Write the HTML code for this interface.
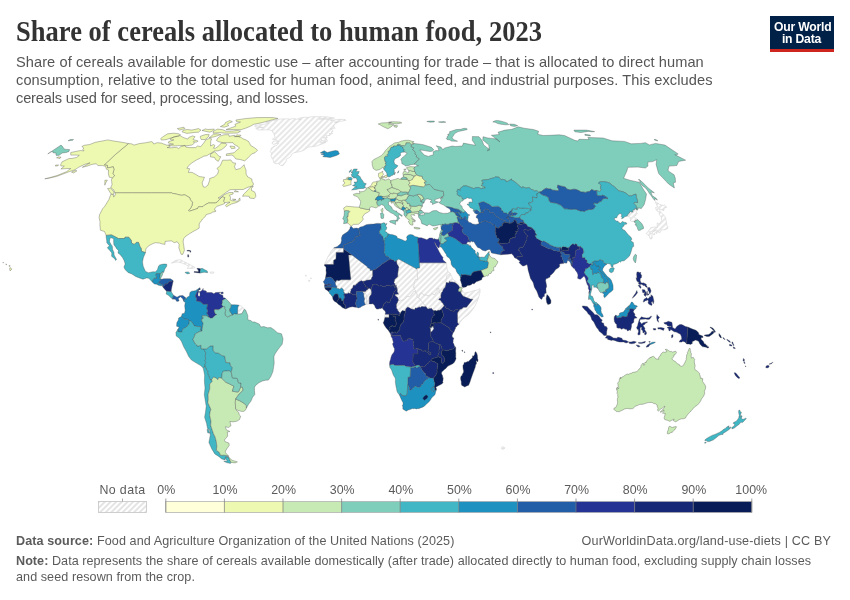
<!DOCTYPE html>
<html lang="en">
<head>
<meta charset="utf-8">
<title>Share of cereals allocated to human food, 2023</title>
<style>
html,body{margin:0;padding:0;background:#fff;}
body{width:850px;height:600px;position:relative;overflow:hidden;font-family:"Liberation Sans",sans-serif;}
.t{position:absolute;white-space:nowrap;}
#title{left:16px;top:14.6px;transform:scaleY(1.09);transform-origin:0 0;font-family:"Liberation Serif",serif;font-weight:bold;font-size:26.5px;line-height:30px;color:#333;letter-spacing:0px;}
.sub{left:16px;font-size:14.6px;line-height:18px;color:#555;}
.foot{font-size:12.6px;line-height:16px;color:#5b5b5b;}
.foot b{font-weight:bold;}
.leg{font-size:12.6px;line-height:14px;color:#5b5b5b;}
#logo{position:absolute;left:769.5px;top:16px;width:64px;height:36px;background:#002147;border-bottom:0;}
#logo .bar{position:absolute;left:0;bottom:0;width:64px;height:3px;background:#ce261e;}
#logo .l{position:absolute;left:0;width:64px;text-align:center;color:#fff;font-weight:bold;font-size:12.2px;line-height:12px;letter-spacing:-0.22px;}
svg{position:absolute;left:0;top:0;}
</style>
</head>
<body>
<div id="title" class="t" style="letter-spacing:0.031px;">Share of cereals allocated to human food, 2023</div>
<div id="s1" class="t sub" style="letter-spacing:0.074px;top:53px">Share of cereals available for domestic use – after accounting for trade – that is allocated to direct human</div>
<div id="s2" class="t sub" style="letter-spacing:0.083px;top:71px">consumption, relative to the total used for human food, animal feed, and industrial purposes. This excludes</div>
<div id="s3" class="t sub" style="letter-spacing:-0.166px;top:89px">cereals used for seed, processing, and losses.</div>
<div id="logo"><div class="l" style="top:4.5px;left:1.2px"><span id="lg1">Our World</span></div><div class="l" style="top:16.5px"><span id="lg2">in Data</span></div><div class="bar"></div></div>
<svg width="850" height="600" viewBox="0 0 850 600">
<defs><pattern id="h" width="4" height="4" patternUnits="userSpaceOnUse" patternTransform="rotate(45)"><rect width="4" height="4" fill="#fff"/><line x1="1" y1="0" x2="1" y2="4" stroke="#e2e2e2" stroke-width="1.6"/></pattern></defs>
<g stroke-linejoin="round">
<g stroke="#d4d4d4" stroke-width="0.6" fill="url(#h)">
<path d="M171.4,263.1L176.1,260.2L180.7,259.7L183.8,261.5L188.1,263.6L191.9,265.7L195.1,267.5L193.2,268.3L187.1,268.4L188.9,266.5L185.7,264.6L181.4,262.8L178.1,262L174.7,262.3Z"><title>Cuba</title></path>
<path d="M210.5,271.9L214.1,272.2L213.5,273.2L210.4,273.2Z"><title>Puerto Rico</title></path>
<path d="M238.8,305.1L241.3,306.1L244,308.7L244,309.8L241.8,313.7L237.4,314.2L237.7,309.8L237.8,307.2Z"><title>French Guiana</title></path>
<path d="M333.7,248L343.7,248L343.7,249L343.6,252.4L336.2,252.4L336,259L333.7,260.2L333.6,264.5L324.7,264.5L324.5,265.9L324.6,264.1L327,258.9L327.5,257.6L329.8,253.7L330.8,251.6Z"><title>Western Sahara</title></path>
<path d="M335.2,282.1L336,281.6L336.8,280L338.7,280.7L341.2,279.8L350.4,279.8L350.9,277.9L350.5,277.6L349.5,266.3L348.5,255L352,255L359.5,260.7L367.1,266.4L367.7,267.7L369.1,268.4L370.1,268.8L370.2,270.5L372.7,270.2L372.7,276.2L371.5,278L371.3,279.6L369.3,280L366.2,280.2L365.3,281.1L363.8,281.2L362.4,281.3L361.8,280.7L360.6,281.1L358.4,282.2L358,283L356.2,284.2L355.9,284.9L355,285.4L353.8,285.1L353.2,285.7L352.9,287.5L351,289.6L351.1,290.5L350.5,291.6L350.6,293.1L349.7,293.5L348.8,292.8L347.3,293.7L345.5,293.7L344.6,293.6L344,292L343.2,292L343.8,290.5L342.6,288.7L341.6,288L339.7,289.3L338.1,288.4L337.1,288.7L336.7,287.7L336.8,286.9L336.6,285.9L335.7,285.2L335.3,283.7Z"><title>Mali</title></path>
<path d="M365.4,304.7L364.9,303.8L364.3,302.2L364.1,300.9L364.6,298.5L364.1,297.6L363.8,295.5L363.8,293.6L362.9,292.3L363,291.4L365.1,291.5L364.8,292.9L365.5,293.6L366.3,294.6L366.4,295.9L366.8,296.4L366.7,302.4L367.3,304.2Z"><title>Togo</title></path>
<path d="M367.3,304.2L366.7,302.4L366.8,296.4L366.4,295.9L366.3,294.6L365.5,293.6L364.8,292.9L365.1,291.5L365.8,291.2L366.3,290.1L367.4,289.8L367.9,289L368.7,288.3L369.5,288.3L371.3,289.8L371.2,290.6L371.7,292.2L371.3,293.2L371.5,294L370.4,295.6L369.7,296.4L369.2,298L369.3,299.7L369.2,303.9Z"><title>Benin</title></path>
<path d="M446.2,262.8L447,265.4L446.6,265.8L447,268.5L448,271.6L448.9,272.3L450.2,273.2L449.2,274.7L447.5,275.2L446.8,275.9L446.7,277.7L445.9,281.5L446.2,282.6L445.9,284.8L445.1,287.4L443.7,288.7L442.8,290.7L442.6,291.7L441.6,292.5L440.9,295.4L440.6,295.5L440.6,294.2L440.3,293.2L439.1,292.2L438.8,290.4L439,288.4L438,288.2L437.8,288.8L436.4,289L437,289.7L437.3,291.3L436,292.7L434.9,294.6L433.8,294.9L431.8,293.4L431,293.9L430.7,294.7L429.6,295.2L429.5,295.7L427.2,295.7L426.9,295.2L425.2,295L424.4,295.5L423.8,295.3L422.6,293.7L422.1,293L420.5,293.4L419.9,294.6L419.3,296.9L418.6,297.4L417.9,297.7L417.7,297.6L416.9,296.8L416.7,296L417.1,294.9L417,293.9L415.7,292.3L415.4,291.1L415.4,290.5L414.6,289.7L414.5,288.2L414,287.2L413.2,287.4L413.4,286.4L414,285.3L413.7,284.2L414.4,283.4L413.9,282.8L414.5,281.2L415.5,279.3L417.5,279.5L417,269.1L417,268L419.6,268L419.4,262.8Z"><title>Sudan</title></path>
<path d="M440.9,295.4L440.6,295.5L440.6,294.2L440.3,293.2L439.1,292.2L438.8,290.4L439,288.4L438,288.2L437.8,288.8L436.4,289L437,289.7L437.3,291.3L436,292.7L434.9,294.6L433.8,294.9L431.8,293.4L431,293.9L430.7,294.7L429.6,295.2L429.5,295.7L427.2,295.7L426.9,295.2L425.2,295L424.4,295.5L423.8,295.3L422.6,293.7L422.1,293L420.5,293.4L419.9,294.6L419.3,296.9L418.6,297.4L417.9,297.7L419.4,298.7L420.7,299.8L420.7,300.6L422.3,302L423.3,303.1L423.9,304.7L425.6,305.7L426,306.6L427.4,308.7L428.5,309L429.1,308.6L430.1,308.7L431.4,308.2L432,309.3L434,311L435,310.3L436.4,310.9L438.3,310.3L439.9,310.3L441.3,309.1L442.7,307.5L444.2,305.8L442.8,303L441.8,302.4L441.3,301.3L440.1,300.1L438.7,299.9L439.5,298.4L440.7,298.3L441,297.6Z"><title>South Sudan</title></path>
<path d="M396.2,286.6L396.4,285.4L394.9,285.4L394.9,283.7L393.9,282.7L394.8,279.3L397.7,276.8L397.8,273.4L398.5,268.1L399,267L398,266.1L398,265.3L397.1,264.6L396.4,260.6L398.7,259.1L407.8,264.1L417,269.1L417.5,279.5L415.5,279.3L414.5,281.2L413.9,282.8L414.4,283.4L413.7,284.2L414,285.3L413.4,286.4L413.2,287.4L414,287.2L414.5,288.2L414.6,289.7L415.4,290.5L415.4,291.1L414,291.6L412.8,292.6L411.2,295.5L409.1,296.7L406.8,296.5L406.2,296.8L406.4,297.7L405.2,298.6L404.3,299.6L401.4,300.6L400.8,300L400.4,300L400,300.6L398.1,300.8L398.5,300.1L397.7,298.3L397.4,297.2L396.4,296.8L395,295.3L395.5,294.1L396.6,294.3L397.2,294.1L398.5,294.2L397.2,291.8L397.3,290L397.1,288.3Z"><title>Chad</title></path>
<path d="M398.1,300.8L400,300.6L400.4,300L400.8,300L401.4,300.6L404.3,299.6L405.2,298.6L406.4,297.7L406.2,296.8L406.8,296.5L409.1,296.7L411.2,295.5L412.8,292.6L414,291.6L415.4,291.1L415.7,292.3L417,293.9L417.1,294.9L416.7,296L416.9,296.8L417.7,297.6L417.9,297.7L419.4,298.7L420.7,299.8L420.7,300.6L422.3,302L423.3,303.1L423.9,304.7L425.6,305.7L426,306.6L425.2,306.8L423.8,306.8L422,306.5L421.2,306.7L420.8,307.3L420.1,307.4L419.2,306.9L416.6,308.2L415.6,307.9L415.3,308.1L414.6,309.7L412.9,309.2L411.2,308.9L409.7,308L407.8,307.1L406.6,307.9L405.7,309.2L405.5,311.1L404,310.9L402.4,310.5L401.1,311.9L399.9,314.3L399.7,313.5L399.5,312.3L398.5,311.5L397.6,310.2L397.4,309.2L396.3,307.9L396.5,307.1L396.3,306L396.4,303.9L397,303.5Z"><title>Central African Republic</title></path>
<path d="M385.2,314.3L389,314.3L389,317.4L385.7,317.4L384.9,317.6L384.5,317.2Z"><title>Equatorial Guinea</title></path>
<path d="M430.5,331.9L430.4,328.8L429.8,327.6L431.3,327.8L432,326.3L433.2,326.5L433.3,327.5L433.8,328.1L433.8,329L433.3,329.5L432.4,330.9L431.5,331.8Z"><title>Burundi</title></path>
<path d="M446.2,282.6L445.9,281.5L446.7,277.7L446.8,275.9L447.5,275.2L449.2,274.7L450.2,273.2L451.7,276.3L452.5,278.7L453.8,279.9L457,282.4L458.4,283.9L459.7,285.4L460.4,286.3L461.6,287.1L460.9,287.7L459.9,287.5L459.1,286.6L458.1,285.1L457.1,284.3L456.4,283.4L454.4,282.3L452.8,282.3L452.2,281.7L450.9,282.3L449.5,281.2L448.9,283.1Z"><title>Eritrea</title></path>
<path d="M461.1,291.7L461.9,290.3L462.6,290.8L463.1,291.9L464.2,292.9L465.3,293L467.5,292.3L469.9,292L471.9,291.2L473.1,291L473.9,290.5L475.2,290.4L475.9,290.4L476.9,290L478.1,289.7L479.2,288.8L480,288.8L480.1,289.5L480,291.1L480.1,292.4L479.6,293.4L479,296.2L478,299.1L476.7,302.5L474.8,306.3L472.9,309.2L470.2,312.7L468,314.9L464.6,317.5L462.4,319.4L459.9,322.6L459.3,324L458.8,324.6L457.5,322.4L457.4,312.9L459.4,310L460,309.2L461.5,309.1L463.5,307.3L466.5,307.2L472.8,299.3L470.9,299.3L463.3,296.2L462.4,295.3L461.5,294.1L460.6,292.6Z"><title>Somalia</title></path>
<path d="M308.7,280.3L309.6,280.3L309.6,281.3L308.7,281.3ZM305.5,275.3L306.4,275.3L306.3,276.1L305.4,276.1ZM310.6,277.9L311.3,277.9L311.3,278.6L310.6,278.6Z"><title>Cape Verde</title></path>
<path d="M501.9,446.9L503.5,446.9L504.9,447.9L504,449.1L501.8,449.1L501.4,448.1Z"><title>Kerguelen</title></path>
<path d="M469.1,242L469.8,243.2L469.6,243.7L470.6,245.7L469,245.8L468.3,244.5L466.3,244.3L467.6,241.8Z"><title>Kuwait</title></path>
<path d="M637,209.7L637.5,210.1L636.6,210L636.2,210.9L636.1,211.7L637.3,213.6L636.5,214.2L636.3,214.6L636,215.4L634.8,215.8L634.2,216.5L634.7,217.6L634.7,217.9L635.7,218.3L637.5,219.5L636.7,220.3L635.2,220.4L635,221.6L634,221.5L633.9,221.7L632.7,221.2L632.6,221.7L632.1,221.9L631.8,221.4L631.1,221.2L630.3,220.8L630.4,219.6L630.7,219.3L630.3,218.9L630.2,217.5L629.8,217L628.4,216.8L627.1,216.1L627.9,214.4L629.5,213L629.9,211.2L631.4,212L633.2,212.1L632.1,210.7L634.7,209.6L634.7,208.1Z"><title>North Korea</title></path>
<path d="M666.6,223.3L666.8,225.4L667.8,226.7L667.6,228.5L665.4,229.7L661.6,229.9L659.8,232.9L657.9,231.9L657,229.9L653.4,230.5L651.4,231.7L648.9,231.8L651.9,233.7L652.2,238.1L651.2,239.2L649.7,238.2L649.4,235.9L647.7,235.1L646.1,233.3L647.8,232.5L648.2,230.9L649.8,229.5L650.6,227.8L654.6,227L657.2,227.5L657.2,222.9L659.2,224.1L661.1,221.5L661.7,220.5L661.3,217.3L659.3,214.4L659.2,212.8L661.1,212.3L664.5,215.9L665.6,218ZM661.7,205.1L663.6,205.6L664.3,204.6L666.7,207.4L664.1,208.1L663.9,210.7L659.5,208.9L660.2,211.8L657.8,211.8L655.9,209.3L655.7,207.3L657.8,207.1L656,203.6L655.3,201.6L659.5,204.2ZM656.5,231.1L657.2,232L656.6,233.6L655.4,232.7L654.5,233.3L654.6,234.9L652.9,234.1L652.4,232.9L652.9,231.3L654.3,231.6L654.7,230.5Z"><title>Japan</title></path>
<path d="M298.9,118.2L304.1,117.3L308.8,117.3L310.9,116.8L315.7,116.7L326.4,116.8L334.5,118L331.8,118.6L326.5,118.7L319,118.8L319.5,119.1L324.5,119L328.5,119.5L331.3,119L332.3,119.6L330.5,120.6L334.2,119.9L341.1,119.3L345.2,119.6L345.9,120.3L339.9,121.5L339,121.9L334.4,122.2L337.7,122.3L335.7,123.6L334.2,124.8L333.7,126.9L335.2,128.2L332.8,128.3L330.2,128.9L332.7,129.9L332.7,131.7L331,131.8L332.6,133.6L329.1,133.8L330.8,134.6L330.1,135.3L327.8,135.7L325.6,135.7L327.2,137.1L327,138L324.1,137.1L323.1,137.7L325.2,138.2L327,139.5L327.3,141.3L324.2,141.7L323.1,140.9L321.4,139.6L321.6,141.1L319.5,142.2L323.8,142.3L326,142.4L321.2,144.3L316.2,146.1L311.1,146.8L309.2,146.9L307.2,147.7L304.2,150.1L300,151.7L298.8,151.8L296.3,152.3L293.6,152.9L291.7,154.3L291.1,155.9L289.7,157.4L286.2,159.3L286.3,161.1L284.9,163.1L283.2,165.4L280.6,165.5L278.5,163.6L274.9,163.6L273.6,162.3L273.3,160L271.3,157.1L271,155.6L271.6,153.5L270.1,151.4L271.5,149.7L270.7,148.9L273.6,146.3L276.5,145.5L277.6,144.6L278.7,142.9L276.4,143.7L275.4,144L273.7,144.3L272,143.6L272.6,142.1L273.8,140.9L275.4,140.9L278.5,141.5L276.3,140.1L275.2,139.4L273.4,139.7L272.4,139.2L275.2,137.2L274.7,136.4L274.2,134.9L273.7,132.8L272.2,132L272.8,131.1L269.5,129.9L266.4,129.8L262.2,129.9L258.4,130L257.2,129.4L255.6,128.1L260,127.5L263.2,127.4L257.2,126.9L254.6,126.1L255.5,125.4L261.8,124.5L267.9,123.6L269.1,123L265.8,122.3L267.7,121.6L273.6,120.5L275.8,120.3L275.9,119.5L279.6,119.1L284,118.9L288.3,118.8L289.4,119.3L293.7,118.5L296.6,119.1L298.5,119.2L301,119.7L298.3,118.8Z"><title>Greenland</title></path>
</g>
<g stroke="#444" stroke-opacity="0.75" stroke-width="0.45">
<path fill="#edf8b1" d="M128.4,143.6L131.4,143.8L134,145.1L139.2,143.6L146,142.7L151.4,141.6L152.6,142.1L153.7,144L157.1,142.7L161.3,143.1L166.1,144.9L169.6,145.6L170.2,146.7L167.1,147.6L170.8,147.8L176.4,147.3L178.7,148.5L180.9,146.5L185,145.3L185.9,147.1L189.7,147.6L195.7,147.6L197.5,146L200.7,146.7L204,142.7L205.7,139.9L209.5,138.4L211.5,138.8L210.7,141.6L210.7,143.6L210.5,146L213.4,144.5L215,145.6L213.4,148.2L215.6,148.2L219.4,145.3L221.1,143.1L225.9,143.4L226.8,144.9L224.9,147.1L221.3,149.8L217.9,150.9L214.5,150.9L211.1,153.2L206.7,155.7L203.8,156.2L200.8,157.8L196.1,160.2L192,162.8L188.7,165.6L186.9,168.3L189.7,168.7L188.3,172.4L192.1,172.4L195.6,174.3L199.1,176.5L204.5,177.3L202.2,182.7L202.6,184.7L203.5,187L205.3,187.2L207.9,185.2L209.7,180.2L209.6,178.5L214.2,177L217.6,174.1L218.6,170.4L216.9,168.5L220.3,165.6L222.6,160.2L227.1,160.2L230.8,159.9L232.9,162.8L235.7,163.2L234.5,166.8L235.8,169.7L240.1,168.5L244.2,164.7L244.6,166.8L246,170L246.1,174.1L247.8,177L251.9,179L252,181.2L253.6,184L252.4,186L248,187.2L243.2,189.5L236.2,189.5L230.2,189.7L226.2,192.3L220.7,196.3L218,198.1L220.2,197.9L224.4,194.6L229.1,192.5L233.2,192.5L233.1,194L229.2,195.3L230.6,197.1L230.1,199.9L232.5,200.7L235.5,200.9L237.5,201.4L239.8,197.9L240.2,200.4L236.7,202.5L231.5,204L226.5,206.8L225.4,205.5L226.8,204L230,202.2L227.9,202.2L224.7,202.7L223.5,201.2L224.7,197.6L222.2,196.8L219.6,199.4L217,202.2L215.3,203L208.5,203L204.6,205L203,206.6L198.4,206.8L197.8,208.4L194.2,209.7L189.4,211.2L188.4,210.4L190.4,208.6L192,205.5L192.5,202.2L191,200.7L190,199.1L190,197.9L184.8,194.8L181.5,195.3L179.1,194.8L176.1,194L172.2,193.3L171.4,192.8L161.6,192.8L151.5,192.8L141.4,192.8L131.4,192.8L121.3,192.8L115.3,192.8L114.9,192.8L114,190.2L110.8,187.7L112,184.7L111.7,181.5L111.4,179.5L112.4,177.8L114.7,175.6L112.8,173.8L114,169.5L113.3,166.8L107.5,168L107.4,165.4L104.2,164.9L116.1,153.9ZM113.1,194.6L110.7,193.5L107.6,188.5L110.4,188.2L112.6,190.2L114,192.3ZM104.8,185.2L104.8,182.7L104.9,180.2L107.4,180.2L105.8,182.7ZM242.5,196.3L245.2,196.1L249.2,196.3L249.7,198.1L252.7,198.4L254.2,198.6L255.8,196.6L255.5,194L254.5,191.8L251.5,190.5L251.5,188.5L253.3,186.2L250.4,187.2L247.2,190.8L243.8,194ZM234.9,190.5L238.5,191.8L234.4,191.8ZM232.4,199.1L236,199.4L233.7,200.2ZM218.3,161.4L220.8,156.7L218.8,156.2L217.4,154.4L214.7,151.8L210.7,153.9L210.4,156.9L214.5,157.4L215.7,159.7ZM257.5,150.3L255,152.8L251.8,153.9L248.1,157.8L244.7,160.9L242.4,160.2L240.1,159.5L235.8,159L233.8,156.2L231.9,155.1L226.3,155.5L226.4,153.9L234.1,152.8L236.3,150.5L239.4,148.2L238,146.5L234.3,144.5L233,142.7L227.2,142.7L223,142.7L218.1,141.6L216.5,140.5L217.5,138.4L220.6,135.9L223.9,134.8L228.8,134.6L229,136.3L234.6,135.3L234.2,136.7L238.4,136.5L241,137.4L243.1,138.8L246.3,140.1L248.6,141.6L249.8,143.6L250.5,145.3L254.3,147.6L256.7,149.4ZM168.2,142.9L173.5,144.2L168.6,144.9L172.6,146L179.7,145.6L186.2,145.8L191.9,145.1L194.5,143.1L193.4,141.6L196.1,142.3L198.1,141L193,139.5L195,136.7L192.7,135.9L188.8,137.4L187.8,139.1L183.1,137.4L180.3,135.7L174.2,136.7L169.9,139.1L171.4,139.9L173.9,139.9L168.7,141.6ZM160.7,138.6L161.4,140.1L166,139.7L171.4,137.8L178.2,136.1L180.5,134.8L178.6,133.8L173.9,133.2L167.6,133.8L163,136.7ZM201.2,139.5L205.2,139.5L208.6,136.7L209.1,134.6L205.2,134.6L200.3,136.3L200.4,137.8ZM209.2,137.8L214,136.9L221,134.6L217,133.8L213.5,134.2ZM213,133.2L219.8,132.6L224.7,133.2L231.7,133.2L237.4,133L240.6,131.2L237.3,130.5L232.3,131L225.9,131.2L222.8,129.7L217.4,129.1L213.6,131.2ZM182,131.8L186.9,133.4L195.2,132.4L198.5,132.2L201,130.1L198.5,128.6L191.8,130.1L187.3,129.5L183.4,130.1ZM202,130.5L209.4,132.2L212.5,131.2L214.4,129.1L207.8,129.5L205.5,128.9ZM220.4,126.6L224.2,127.2L228.7,125.8L227.5,123.8L232.4,121.7L229.7,120.5L225.5,122.5L224.7,124.3ZM226.1,129.5L233.7,129.5L241.1,129.7L245.6,128.2L250.5,126.2L253.8,124.3L261,122.9L268.7,120.8L277.8,118.4L273.1,117.6L265.1,117.5L256.7,117.6L246.1,118.5L235.9,120L236.6,121.7L240.5,122L234.9,124.3L235.7,126.2L231,127.8ZM179.6,130.1L184.9,128.6L183.9,127.2L177.3,128.6ZM229.9,146L234.6,146.5L235.2,148.2L231.5,148.7ZM236.6,134.8L241,135.3L239.8,136.7L235.2,136.5Z"><title>Canada</title></path>
<path fill="#edf8b1" d="M114.9,192.8L115.3,192.8L121.3,192.8L131.4,192.8L141.4,192.8L151.5,192.8L161.6,192.8L171.4,192.8L172.2,193.3L176.1,194L179.1,194.8L181.5,195.3L184.8,194.8L190,197.9L190,199.1L191,200.7L192.5,202.2L192,205.5L190.4,208.6L188.4,210.4L189.4,211.2L194.2,209.7L197.8,208.4L198.4,206.8L203,206.6L204.6,205L208.5,203L215.3,203L217,202.2L219.6,199.4L222.2,196.8L224.7,197.6L223.5,201.2L224.7,202.7L224.4,203.7L219.6,205.5L216.9,206.3L214.9,208.6L214.6,210.2L215.9,210.7L215.6,211.5L212.9,212L210.9,213.3L206.2,214.6L205.4,216.4L203.1,218.5L202.5,219L201.6,220.5L199.7,222.9L199.2,223.9L199.2,228.1L196.6,229.7L193.1,231.5L189.7,233.6L185.5,236.4L183.6,238.8L183.1,241.9L183.8,245.8L184.4,250.3L182.8,254.4L181.2,254.4L180.1,251.6L178.8,247.7L179.2,244.5L177.2,241.7L174.1,242.7L171.9,240.9L168.5,241.1L165.1,241.4L165,244.5L164.6,244.3L162.3,244L159.2,243L155.3,242.7L153.1,243.5L148.5,245.8L145.8,249L145.5,252.6L141.5,251.3L141.2,248.4L139.9,246.4L138.5,242.4L136.3,242.4L134.2,244.5L131.5,243L131.3,240.4L128.8,237.2L125,237.2L124.6,238.5L118.4,238.5L111.6,234.9L106.1,235.4L104.5,231.5L100.4,230.2L99.9,224.7L100,221.6L99.1,217.7L99.5,214.8L102.7,208.6L104.4,206.8L108.9,199.6L110.8,194.3L113.9,194.8L113.5,197.1L115.4,194.8ZM128.4,143.6L124.5,142.7L119,141.8L113.7,141L107.8,139.9L102.2,141L95.3,142.3L89.7,144.5L84.2,145.3L81.8,146.5L83.8,148L82.8,149.4L84.1,150.9L80.4,150.5L70.7,152.5L70.8,155.1L76.1,155.1L79.3,155.3L76.7,157.4L71.6,158.5L69,158.5L62.1,161.8L60.7,164.4L60.8,165.9L64.3,166.1L60.9,169L64.9,168.7L68,168.5L70.8,168.5L66.4,171.7L57.7,175.3L50.8,177.3L44.8,178.8L48.8,178.3L56.4,176.5L62.8,174.1L69.2,171.7L75,169.7L78.6,167.3L84.5,164.4L90.1,162.8L82.3,167.3L87.3,166.1L91.9,164.4L96.3,163.7L97.9,165.6L102.5,165.6L105.5,166.3L106.4,169.2L108.5,170L108.4,174.1L109.4,177.3L112.4,177.8L114.7,175.6L112.8,173.8L114,169.5L113.3,166.8L107.5,168L107.4,165.4L104.2,164.9L116.1,153.9ZM71.5,172.1L73.6,172.9L76.9,170.9L75.2,170.4ZM56.5,157.8L60,158.5L61,157.1L58.6,156.9ZM55.6,165.1L58.7,164.9L57.7,165.9L55.4,166.1ZM10,267.5L11.9,269.1L10.1,270.9L9.6,269.1ZM5.9,263.8L6.8,264.6L5.9,264.6ZM9.1,265.4L10.3,265.9L9.3,266.5ZM2.8,262.5L3.7,262.5L3.1,263.1Z"><title>USA</title></path>
<path fill="#41b6c4" d="M106.1,235.4L111.6,234.9L118.4,238.5L124.6,238.5L125,237.2L128.8,237.2L131.3,240.4L131.5,243L134.2,244.5L136.3,242.4L138.5,242.4L139.9,246.4L141.2,248.4L141.5,251.3L145.5,252.6L143.4,257.6L142.5,262L143.2,266.2L144.7,269.8L145.6,271.4L148.4,272.7L153.1,271.7L155.3,271.9L157.4,269.8L158.6,265.9L159.7,264.9L163.2,264.1L166.6,264.1L166.8,265.9L164.7,269.3L163.7,272.5L162.6,271.9L160.4,273.7L156.2,273.7L156,275.2L157,278.2L154.1,278.3L152.7,280.5L152.5,282.2L148.8,278.2L146.6,277.9L143,279.2L138.7,277.7L135.6,276.4L131.9,274L128,272.5L125.1,269.6L123.9,267L125.2,264.1L124.2,260.7L122.5,257.6L119.8,254.2L118,253.1L118.4,250.5L116.6,248.7L115.9,247.4L113.9,244.8L113.6,241.4L113.7,238.8L110.6,237.5L109.8,239.3L109.5,241.7L111.1,244.5L112.4,246.4L112.5,249.2L114,252.4L114.1,255L115.2,257.1L116.6,259.4L115.5,260.4L114.9,258.9L111.6,256.3L111.8,252.9L109.6,250.3L107.3,247.7L109.4,245.8L106.8,242.7L106.7,240.6L106.2,237.5Z"><title>Mexico</title></path>
<path fill="#1d91c0" d="M152.5,282.2L152.7,280.5L154.1,278.3L157,278.2L156,275.2L156.2,273.7L160.4,273.7L159.7,278.7L160.4,278.7L161.9,279.2L159.5,281.1L159,282.6L157.1,284.3L154.4,283.9Z"><title>Guatemala</title></path>
<path fill="#7fcdbb" d="M160.4,273.7L162.6,271.9L162.9,273L162.1,275.8L160.4,278.7L159.7,278.7Z"><title>Belize</title></path>
<path fill="#1d91c0" d="M157.1,284.3L159,282.6L160.8,283.9L162.5,284.2L162.2,285.5L160.6,285.8L157.7,285Z"><title>El Salvador</title></path>
<path fill="#225ea8" d="M161.9,279.2L159.5,281.1L159,282.6L160.8,283.9L162.5,284.2L162.2,285.5L163.1,286.3L164,286.3L164.9,284.2L167.2,283.9L169.2,281.6L173.2,281.1L172.8,280.3L170.4,278.8L167,278.7L163.6,278.8Z"><title>Honduras</title></path>
<path fill="#172976" d="M163.1,286.3L164,286.3L164.9,284.2L167.2,283.9L169.2,281.6L173.2,281.1L172,286.3L171.3,289.7L171.2,291.7L168.9,291.4L166.6,291.2L164.9,289.4L162.4,286.5Z"><title>Nicaragua</title></path>
<path fill="#41b6c4" d="M166.6,291.2L168.9,291.4L171.2,291.7L173.5,295.3L172.5,299.1L171.2,298L168.4,295.2L166.2,294.1Z"><title>Costa Rica</title></path>
<path fill="#225ea8" d="M173.5,295.3L177,297.2L179.6,295.8L182.8,295.5L185.4,297.6L183.9,301.4L182.7,298.8L180.5,296.7L178.3,298.5L179.1,300.9L176.8,301.4L175.3,299.3L172.5,299.1Z"><title>Panama</title></path>
<path fill="#41b6c4" d="M185.3,272.2L188.2,271.9L189.9,273.2L187.6,273.9L185.2,272.7Z"><title>Jamaica</title></path>
<path fill="#081d58" d="M194,272.3L197.2,272.7L200,273.1L200.6,268.8L197.7,268.3L196.8,268.8L198.2,269.8L198.5,271.7L194.2,271.5Z"><title>Haiti</title></path>
<path fill="#41b6c4" d="M200,273.1L201.8,272.7L204.1,272.2L207.7,272.7L207.2,270.9L204.8,269.8L202.2,268.3L200.6,268.8Z"><title>Dominican Republic</title></path>
<path fill="#081d58" d="M187.7,254.7L188.6,254.7L188.7,257.1L187.8,257.1ZM187,250.5L189,250.3L190.7,250.8L190.8,251.8L190,252.4L189.8,251.1L186.9,251.1Z"><title>Bahamas</title></path>
<path fill="#253494" d="M221.1,292.3L223.1,292L223.1,293.8L221,293.8Z"><title>Trinidad and Tobago</title></path>
<path fill="#1d91c0" d="M185.4,297.6L186.5,299.3L186.6,297.8L189.5,295.7L189.9,292.5L191.6,291.2L195.3,290.7L197.6,289.2L199.8,287.8L200.2,289.4L198.1,289.9L196.7,292.8L195.4,296.2L196.7,298.5L196.6,300.9L200.5,301.8L203.4,304.3L207.7,304L206.9,308.5L208,311.3L206.8,312.9L208.6,315.8L208.8,317.1L208.4,317.1L206.3,315.8L202.2,315.8L202.1,317.3L203.5,317.6L203.1,318.6L201.7,318.9L201.7,320.7L203.1,323.1L201.9,331.2L200.2,330.1L201,326.7L197.1,326.5L194.4,325.9L191.5,321.5L189.4,320.5L187.1,319.2L184.6,319.2L181.4,316.5L182.2,313.7L184.5,313.2L185.2,310.3L184.7,305.8L185.3,302.5L183.9,301.4Z"><title>Colombia</title></path>
<path fill="#253494" d="M199.8,287.8L200.2,289.4L198.1,289.9L196.7,292.8L195.4,296.2L196.7,298.5L196.6,300.9L200.5,301.8L203.4,304.3L207.7,304L206.9,308.5L208,311.3L206.8,312.9L208.6,315.8L208.8,317.1L210.2,318.2L212.5,317.9L215.5,315.2L216.9,314.5L215.1,313.7L214.2,310L215.2,309.5L218.4,309.8L220.7,308.5L223.3,306.6L221.7,304.7L222.5,302.7L222.3,300.6L225.6,298.5L225.2,298L223.1,297.8L223,295.4L219.6,294.1L219,293.1L220.8,292.3L215.6,292.5L213.9,293.8L211.7,292.5L206.6,292.5L206.2,291L203.1,290.2L203.2,288.4L202.2,290.2L200.3,291.5L198.9,291.8L198.3,290.2Z"><title>Venezuela</title></path>
<path fill="#7fcdbb" d="M225.6,298.5L228.5,301.2L231.4,304.8L231.1,307.2L229.7,309.2L230.1,311.6L232.8,315.2L231.7,315.2L227.5,317.1L225.4,315.5L224.8,313.2L225.8,310L224.6,308.5L224.9,306.9L223.3,306.6L221.7,304.7L222.5,302.7L222.3,300.6Z"><title>Guyana</title></path>
<path fill="#1d91c0" d="M231.4,304.8L234.4,304.8L238.8,305.1L237.8,307.2L237.7,309.8L237.4,314.2L234.2,313.7L232.8,315.2L230.1,311.6L229.7,309.2L231.1,307.2Z"><title>Suriname</title></path>
<path fill="#1d91c0" d="M181.4,316.5L184.6,319.2L187.1,319.2L189.4,320.5L189,324.1L186.5,327L182.7,329.1L181.8,332.2L179.8,331.9L177.9,331.7L178.1,329.1L179.2,327L176.6,326.2L176.8,322.8L178.4,319.9L178.6,318.1Z"><title>Ecuador</title></path>
<path fill="#41b6c4" d="M178.1,329.1L177.9,331.7L179.8,331.9L181.8,332.2L182.7,329.1L186.5,327L189,324.1L189.4,320.5L191.5,321.5L194.4,325.9L197.1,326.5L201,326.7L200.2,330.1L201.9,331.2L200,331.4L195.2,333.8L194.6,336.1L192.9,339.5L195.4,343.9L197.1,345.2L197.4,346.3L201,345.2L201.2,348.9L203.5,348.8L205.8,352.8L205.3,355.9L205.6,359.3L205,360.4L205.8,362.5L204.7,365.3L205,365.9L203.2,368.1L200.7,365.6L196.8,363.3L191.5,360.1L188.7,356.5L186.5,351.8L183.6,346.6L181.5,341.6L179.3,338.2L176.2,335.9L175.9,332.5Z"><title>Peru</title></path>
<path fill="#41b6c4" d="M203.5,348.8L206.4,348.9L210.2,346L213.2,345.8L213.2,350.7L215.6,352.8L218.8,353.2L221.7,355.4L224.7,356.2L225.9,362.5L230,362.7L230.4,365.3L232.4,367.7L231.9,369.8L231.2,371.9L231.4,372.8L229.1,370.7L223.2,371.3L222.1,373.7L221.7,378.3L218.8,377.6L217.9,379.7L215.9,377.9L213.6,377.1L211.6,379.7L210,379.7L209,376.3L207.6,373.4L207.8,370.8L206.5,369.8L205,365.9L204.7,365.3L205.8,362.5L205,360.4L205.6,359.3L205.3,355.9L205.8,352.8Z"><title>Bolivia</title></path>
<path fill="#41b6c4" d="M203.2,368.1L205,365.9L206.5,369.8L207.8,370.8L207.6,373.4L209,376.3L210,379.7L211.6,379.7L212.3,381.5L209.7,384.1L209.8,388.8L208.1,394.6L208.3,399.5L207.8,402.4L209.9,407.1L210.9,409.4L210,412.3L209.7,415.4L211,421.2L210.7,425.3L212.3,430.2L213.4,433.6L215.1,436.9L216.3,441.5L216.9,446.4L216.4,450.2L219.2,452.2L220.5,455.2L225,455.2L228.5,456.1L226.5,456.4L224.9,458.9L225.1,459.9L221.7,458.9L218.7,456.4L214.8,453.9L211.8,448.9L208.9,442.5L209.6,438.7L210.3,434.9L209.6,429.7L207.5,428.4L206.5,423.2L204.6,417.3L205.4,412.8L206.2,406.3L205.1,399.8L204.3,394.6L205,388L204.4,381.5L204.6,375ZM228.4,456.8L225.3,457.2L225.8,459.2L227.5,460.9L223.7,461.2L226.4,462.6L230.5,463.4L230.9,462.4ZM207,429.4L208.4,429.4L209.7,433.3L207.7,432.8Z"><title>Chile</title></path>
<path fill="#c7e9b4" d="M211.6,379.7L213.6,377.1L215.9,377.9L217.9,379.7L218.8,377.6L221.7,378.3L225.9,382.3L229.4,383.9L233.9,386.2L232.3,391.2L237.1,392L238.6,391.7L240.7,387L242.5,387.3L243.1,390.4L239.1,394L235.6,399L235.3,402.4L235.5,406L235.6,408.7L235.8,409.7L238.9,412.6L239.2,414.9L240.7,416.2L239.5,419.6L236.9,421.2L232.8,421.9L229.9,421.4L231,425.8L228.3,427.6L225.5,426.6L226.2,429.7L229.9,431.5L227.3,432L227.7,436.1L224.4,440L224.9,441.5L228.9,443.1L229.3,445.3L227.1,448.4L225.4,451.2L225.6,452.7L228.5,456.1L225,455.2L220.5,455.2L219.2,452.2L216.4,450.2L216.9,446.4L216.3,441.5L215.1,436.9L213.4,433.6L212.3,430.2L210.7,425.3L211,421.2L209.7,415.4L210,412.3L210.9,409.4L209.9,407.1L207.8,402.4L208.3,399.5L208.1,394.6L209.8,388.8L209.7,384.1L212.3,381.5ZM228.4,456.8L229.8,458.2L232,460.2L237.4,461.9L235.1,462.9L230.9,462.4Z"><title>Argentina</title></path>
<path fill="#c7e9b4" d="M235.6,399L239.4,400.6L241.8,401.9L244.8,404L246.4,405.5L246.4,408.1L245.4,410.2L243.7,411.4L240.8,411.3L237.1,410L235.6,408.7L235.5,406L235.3,402.4Z"><title>Uruguay</title></path>
<path fill="#7fcdbb" d="M221.7,378.3L222.1,373.7L223.2,371.3L229.1,370.7L231.4,372.8L232.4,377.9L235.6,378.1L237.4,378.6L238.5,382.8L241,383.1L240.7,387L238.6,391.7L237.1,392L232.3,391.2L233.9,386.2L229.4,383.9L225.9,382.3Z"><title>Paraguay</title></path>
<path fill="#7fcdbb" d="M244.2,309.2L245.6,310L247.8,315.5L247.8,319.7L251.2,320.7L252.4,322L254.7,322L259.3,324.1L260.9,327L263.9,326.5L267.4,327.8L270.9,327.6L274.3,329.9L277.4,332.7L281.5,333.8L283,338.9L282.2,344.2L279.5,347.6L277.5,350.2L274.9,354.1L273.9,356.7L274.2,363.3L273.7,366.6L272.9,371.6L270.7,376.8L268.4,380.1L265.7,380.2L262.4,381L258.9,382.8L255.6,385.4L254.4,387.5L254.5,390.6L254.8,394.6L252.6,397.2L251,401.1L248.6,404.2L246.4,408.1L246.4,405.5L244.8,404L241.8,401.9L239.4,400.6L235.6,399L239.1,394L243.1,390.4L242.5,387.3L240.7,387L241,383.1L238.5,382.8L237.4,378.6L235.6,378.1L232.4,377.9L231.4,372.8L231.2,371.9L231.9,369.8L232.4,367.7L230.4,365.3L230,362.7L225.9,362.5L224.7,356.2L221.7,355.4L218.8,353.2L215.6,352.8L213.2,350.7L213.2,345.8L210.2,346L206.4,348.9L203.5,348.8L201.2,348.9L201,345.2L197.4,346.3L197.1,345.2L195.4,343.9L192.9,339.5L194.6,336.1L195.2,333.8L200,331.4L201.9,331.2L203.1,323.1L201.7,320.7L201.7,318.9L203.1,318.6L203.5,317.6L202.1,317.3L202.2,315.8L206.3,315.8L208.4,317.1L208.8,317.1L210.2,318.2L212.5,317.9L215.5,315.2L216.9,314.5L215.1,313.7L214.2,310L215.2,309.5L218.4,309.8L220.7,308.5L223.3,306.6L224.9,306.9L224.6,308.5L225.8,310L224.8,313.2L225.4,315.5L227.5,317.1L231.7,315.2L232.8,315.2L234.2,313.7L237.4,314.2L241.8,313.7L244,309.8Z"><title>Brazil</title></path>
<path fill="#fff" d="M199,291.6L198,293.6L198,295.4L199.1,296.5L200,295.7L200,293.6L199.5,292Z"><title>Lake Maracaibo</title></path>
<path fill="#1d91c0" d="M320.3,152.8L324.2,150.7L327.3,152.5L331.9,151.2L335.4,150.5L338,150.9L339.4,153.9L336.5,155.5L330.1,157.6L326.6,157.1L322.8,156.7L324.2,155.3L320.9,154.1L324.6,153.2Z"><title>Iceland</title></path>
<path fill="#c7e9b4" d="M383.6,167.8L382.5,167.3L382.1,168L379.8,169.5L376.1,170.4L373.2,168.5L372.2,164.4L372,161.4L373.8,159.5L378.1,157.4L381.5,155.5L383.9,152.8L385.4,150.5L387.7,148.2L389.2,146.5L392.3,144.5L394.5,142.9L398.5,142.3L401.6,141L405.2,140.3L408.8,140.3L414.1,141.8L411.9,142.9L414.3,143.6L411.4,144.8L409.4,142.9L406.1,142.9L406,144.5L404.6,145.8L401.7,145.6L398.6,144.2L397.5,144.8L396.7,146.2L393.5,146L393.3,147.1L391.3,147.3L390.6,148.2L389.6,150.9L388.1,151.4L388.5,153.2L387.1,154.8L387.9,155.7L387.6,156.2L385.5,156.2L384.4,157.8L385.1,161.6L386.4,162.4L385.2,163.2L386.1,164.7L386,165.4L384.8,166.1L384.6,166.6L384.9,167.5L384.2,168.3ZM378.2,124L381.7,122.9L386,122.7L391.5,122.2L388.4,124L393.7,124.7L390.6,127.2L387.9,128.8L383.9,127L379.8,124.7ZM388.7,122.2L392.8,121.7L400,122L401.8,122.9L396.4,124L390.4,123.2ZM393.8,125.3L397.7,125.8L396.6,127.4L394.2,126.8Z"><title>Norway</title></path>
<path fill="#41b6c4" d="M383.6,167.8L383.9,169.5L385.4,171.2L386.7,173.1L387,174.8L387.7,176.8L390.2,176.8L390.4,176L393.1,175.1L394.3,173.4L394.3,170.7L394.1,169L395.6,168.5L397.5,166.6L397.8,165.6L394.6,164L394,161.6L394.3,159.7L396,158.3L398,157.4L399.8,156.2L400.8,155.1L400.1,153.7L401.8,152.3L404.9,152.1L403.9,150.9L404,149.4L403.1,148.2L402.7,147.1L399.3,145.3L397.5,144.8L396.7,146.2L393.5,146L393.3,147.1L391.3,147.3L390.6,148.2L389.6,150.9L388.1,151.4L388.5,153.2L387.1,154.8L387.9,155.7L387.6,156.2L385.5,156.2L384.4,157.8L385.1,161.6L386.4,162.4L385.2,163.2L386.1,164.7L386,165.4L384.8,166.1L384.6,166.6L384.9,167.5L384.2,168.3ZM397.4,172.9L398.7,170.7L398.5,172.4L397.7,173.1ZM394.2,174.8L395.3,172.1L394.6,174.6Z"><title>Sweden</title></path>
<path fill="#7fcdbb" d="M397.5,144.8L398.6,144.2L401.7,145.6L404.6,145.8L406,144.5L406.1,142.9L409.4,142.9L411.4,144.8L411.2,146.7L414,147.8L412.8,149.6L415.3,152.3L415.1,154.1L416.9,155.7L416.2,156.9L419.5,158.8L417.3,161.4L413.9,164.3L410.7,164.7L408.8,165.4L405.4,166.1L404.3,164.7L401.9,163.7L401.7,161.4L400.8,159.2L402.2,157.8L404.5,156L406.3,154.1L407.1,153L404.9,152.1L403.9,150.9L404,149.4L403.1,148.2L402.7,147.1L399.3,145.3Z"><title>Finland</title></path>
<path fill="#edf8b1" d="M378.5,176.5L379.7,178L382.1,178.3L381.4,176.8L382.7,175.3L383.7,174.1L382.5,172.9L382.9,171L380.8,172.6L378.5,173.4L378.4,175.1ZM384.2,176L386.8,175.1L387.1,176.3L386.3,177.8L384.5,177.3ZM381.8,176.5L383.7,176.5L383.6,177.6L382.2,177.5Z"><title>Denmark</title></path>
<path fill="#41b6c4" d="M351.6,190L356,189.5L359,188.7L363.6,188.4L365.8,187.2L364.4,186.5L366.3,183.7L363.6,182.7L363,181.2L361.1,178.8L359.9,176.5L359,175.6L356.9,175.3L358.2,174.3L359.2,171.4L355.7,171.4L357.4,169L353.7,169L352.1,171.7L352.2,173.8L351.2,174.6L352.2,177L353.8,176.5L353.2,178L356.3,178L357.2,180.2L357,182L354,182L354.8,183.2L354.9,184.5L352.5,185.5L354.7,186.2L356.9,187L354.7,187.2ZM347.1,179.1L349,177.6L351.1,177.3L352.4,178.8L351.4,180.1L348.9,179.9ZM349.3,171.2L351.4,169.5L351.2,170.7L349.4,172.6ZM350.8,171.7L351.9,172.1L351.7,172.7Z"><title>United Kingdom</title></path>
<path fill="#edf8b1" d="M351.4,180.1L350.9,182L351.2,184.7L350.4,184.7L347.2,185.7L343.6,186.5L342.5,185L344.4,183.7L344.6,182.2L343.3,181.5L343.6,179.5L346.5,179.5L346.2,178.3L347,177.5L349,177L349,177.6L347.1,179.1L348.9,179.9Z"><title>Ireland</title></path>
<path fill="#7fcdbb" d="M344.4,211.1L345.8,210.4L349.1,210.8L349.9,211.7L348.4,213.3L348.1,216.7L347,216.9L348,220.5L347.1,223.1L343.6,223.7L344.2,220L342.7,219.1L344.1,215.4Z"><title>Portugal</title></path>
<path fill="#edf8b1" d="M344.4,211.1L343.6,208.1L346.4,206.2L350.9,206.6L355.1,207L359.2,207.2L360.1,207.9L364.5,208.8L366.6,209.4L369.7,209.5L369.7,211L367.6,212.4L364.7,213.8L362.4,217.2L363.4,219.1L361.5,221.6L358.9,223.9L358.3,224.3L353.5,224.4L351.4,226L349.4,224.7L348.1,223.1L347.1,223.1L348,220.5L347,216.9L348.1,216.7L348.4,213.3L349.9,211.7L349.1,210.8L345.8,210.4Z"><title>Spain</title></path>
<path fill="#c7e9b4" d="M359.2,207.2L360.3,204L360.7,201.4L358.5,198.1L357.3,196.6L353.9,195.6L353.3,194.3L356.9,193.3L359.8,193.7L359.4,191L360.6,191.8L363.2,191.5L366,190L366.2,188L368.1,187.5L369.2,188.2L371.4,190.2L372.7,190.8L374.6,191.4L375.8,191.6L379.5,192.8L378.4,196.3L377.2,196.8L375.5,199.1L375.5,200L376.9,199.4L377.4,200.7L376.8,202.7L377.5,204.8L378.7,206.1L376,208L373.4,207.2L371.3,206.8L369.5,207.9L369.7,209.5L366.6,209.4L364.5,208.8L360.1,207.9ZM381,209.7L382.6,208.1L383.1,210.4L382.4,212.3L381.1,211Z"><title>France</title></path>
<path fill="#edf8b1" d="M368.1,187.5L369.7,186.8L371.5,186.8L372.9,186.6L374.6,187.4L374.3,188.2L375.1,188.4L375.7,189.4L375.2,189.9L374.5,190.8L374.6,191.4L372.7,190.8L371.4,190.2L369.2,188.2Z"><title>Belgium</title></path>
<path fill="#edf8b1" d="M369.7,186.8L370.7,185.7L371.8,184.2L372.3,182.8L373.7,182L376.5,181.7L377.1,182.2L376.8,183.7L376.2,184L376.8,184.7L376.2,185.5L374.8,185.7L375.3,186.7L374.8,187.6L375.1,188.4L374.3,188.2L374.6,187.4L372.9,186.6L371.5,186.8Z"><title>Netherlands</title></path>
<path fill="#1d91c0" d="M374.5,190.8L375.2,189.9L376,190.8L375.8,191.6L374.6,191.4Z"><title>Luxembourg</title></path>
<path fill="#c7e9b4" d="M377.1,182.2L376.8,181.2L379.1,181L379.7,180.5L380.5,180.2L380.2,179.2L379.7,178L382.1,178.3L382.3,179.2L384.3,179.2L384.3,180.2L386.6,179.7L388.9,178.8L390.6,180.5L391.1,182L390.7,183.2L391.8,184L391.8,185.7L392.8,187.7L391.4,187.7L388.7,189.2L387.2,189.5L388.1,191L390.8,193.4L390.1,194L388.8,195.1L389.4,196.6L387.8,196.2L384.4,196.6L382.5,196.5L380.5,196.1L378.4,196.3L379.5,192.8L375.8,191.6L376,190.8L375.2,189.9L375.7,189.4L375.1,188.4L374.8,187.6L375.3,186.7L374.8,185.7L376.2,185.5L376.8,184.7L376.2,184L376.8,183.7Z"><title>Germany</title></path>
<path fill="#1d91c0" d="M378.4,196.3L380.5,196.1L382.5,196.5L382.4,197.7L384.3,198.1L383.7,199.6L382,199.4L381.5,200.8L380.2,199.4L379.2,200.5L377.4,200.7L376.9,199.4L375.5,200L375.5,199.1L377.2,196.8Z"><title>Switzerland</title></path>
<path fill="#c7e9b4" d="M382.5,196.5L384.4,196.6L387.8,196.2L389.4,196.6L388.8,195.1L390.1,194L390.8,193.4L392.7,193.8L393.2,192.8L395.5,193.4L397.2,193.8L397.8,195.3L397.7,196.1L396.6,196.8L395.9,198.2L393.7,198.9L391,199.1L388.3,198.6L387.8,197.7L385.5,198.4L384.3,198.1L382.4,197.7Z"><title>Austria</title></path>
<path fill="#7fcdbb" d="M378.7,206.1L377.5,204.8L376.8,202.7L377.4,200.7L379.2,200.5L380.2,199.4L381.5,200.8L382,199.4L383.7,199.6L384.3,198.1L385.5,198.4L387.8,197.7L388.3,198.6L391,199.1L390.5,199.9L391,200.9L391.4,201.4L389.9,201.2L388.4,202.2L388.7,205L391.3,206.7L392.8,209.7L395,211L396.9,211L396.5,212L398.9,213.3L402.3,215.6L402,216.4L399.2,214.6L398.3,216.1L399.6,218.5L398.3,219.2L397.5,221.2L396.6,221.1L396.9,219.2L397.3,217.9L396.3,215.9L394.6,215.1L393.2,213.8L390.4,212.6L388.7,211.3L386.3,209.7L384.9,208.1L384.2,205.8L381.4,204.5L379.8,205.8ZM389.7,221.1L391.5,220.5L396.4,220.3L395.5,222.9L395.6,224.6L393.8,223.7L389.8,222.1ZM380.3,213.5L382.4,212.6L383.8,214.6L383.5,218.2L382,218.7L380.9,217.9L380.8,215.1Z"><title>Italy</title></path>
<path fill="#1d91c0" d="M391,199.1L393.7,198.9L395.9,198.2L396.9,199.1L395.1,199.9L395.3,200.8L394.5,201.8L393,201.3L391,201.8L391.4,201.4L391,200.9L390.5,199.9Z"><title>Slovenia</title></path>
<path fill="#c7e9b4" d="M391,201.8L393,201.3L394.5,201.8L395.3,200.8L395.1,199.9L396.9,199.1L399.1,200.5L401.8,200.7L402.2,201.7L403,202.5L402.3,203.4L400,202.7L397.9,202.3L396.7,203L395.5,202.5L395.6,203.5L396.6,205L399.8,208.1L399.9,208.4L401.7,209.4L401.8,209.7L398.5,208.1L396.2,206.8L394.4,205L393.8,202.8L392.5,202.2L391.8,203.5L390.8,201.8Z"><title>Croatia</title></path>
<path fill="#c7e9b4" d="M395.5,202.5L396.7,203L397.9,202.3L400,202.7L402.3,203.4L403,203.2L402.6,204.6L403.7,205.5L403.1,206.8L402,207.5L401.7,209.4L399.9,208.4L399.8,208.1L396.6,205L395.6,203.5Z"><title>Bosnia and Herzegovina</title></path>
<path fill="#c7e9b4" d="M401.8,200.7L403.2,200L404.5,200L405.8,201.1L407.4,202.6L407.3,203.5L409.6,203.7L410.1,205L409.6,205.5L411,207.6L410,209.8L408.3,210.1L408.5,208.9L407,207.6L406,207.6L405.6,208.5L403.1,206.8L403.7,205.5L402.6,204.6L403,203.2L402.3,203.4L403,202.5L402.2,201.7Z"><title>Serbia</title></path>
<path fill="#c7e9b4" d="M405.6,208.5L406,207.6L407,207.6L408.5,208.9L408.3,210.1L406.6,210.6L406.3,211L405.1,209.3Z"><title>Kosovo</title></path>
<path fill="#1d91c0" d="M401.7,209.4L402,207.5L403.1,206.8L405.6,208.5L405.1,209.3L404.3,209.2L403.5,210.2L403.7,211.1L401.8,209.7Z"><title>Montenegro</title></path>
<path fill="#7fcdbb" d="M403.7,211.1L403.5,210.2L404.3,209.2L405.1,209.3L406.3,211L406.2,212.5L407.4,213.7L406.9,215.6L405.5,216.7L403.9,214.8L404.1,212.5Z"><title>Albania</title></path>
<path fill="#41b6c4" d="M406.3,211L406.6,210.6L408.3,210.1L410,209.8L411.4,211.3L411.3,212.4L409.5,212.9L407.4,213.7L406.2,212.5Z"><title>North Macedonia</title></path>
<path fill="#c7e9b4" d="M405.5,216.7L406.9,215.6L407.4,213.7L409.5,212.9L411.3,212.4L414.6,211.9L417.7,211.5L419.1,212.4L418.1,213.9L415.8,213.4L413.8,214.1L414.8,215.5L413.3,215.1L411.5,214.6L411,215.9L412.5,217.9L411.7,219L414.4,220.5L414.6,222L412.5,221.1L412.9,222.9L412.9,225.1L411.4,225.1L409.8,224.2L408.3,221.3L409.5,220.2L407.3,218.7L406,217.4ZM414.2,227.3L415.5,227.3L420.1,228.1L419.7,228.9L416.7,229L414.1,228.2ZM412.7,218.5L415.1,220.5L415.8,221.1L413.2,219Z"><title>Greece</title></path>
<path fill="#c7e9b4" d="M410,209.8L411,207.6L409.6,205.5L410.1,205L410.8,206.1L415.9,206.4L419.1,205.2L422.4,206.2L421.3,208.1L420.6,209.4L421.8,210.7L419.7,210.4L418.5,211.5L417.7,211.5L414.6,211.9L411.3,212.4L411.4,211.3Z"><title>Bulgaria</title></path>
<path fill="#7fcdbb" d="M404.5,200L406.3,199.6L407.9,196.3L409.4,195.3L413.6,195.9L416.8,194.7L418.9,196.6L420.7,198.9L421.1,201.8L424.1,202.1L424.1,203L422.4,203.7L422.4,206.2L419.1,205.2L415.9,206.4L410.8,206.1L410.1,205L409.6,203.7L407.3,203.5L407.4,202.6L405.8,201.1Z"><title>Romania</title></path>
<path fill="#c7e9b4" d="M416.8,194.7L419.2,194.2L422.1,195.4L424.2,199.1L422.4,199.5L421.1,201.8L420.7,198.9L418.9,196.6Z"><title>Moldova</title></path>
<path fill="#c7e9b4" d="M395.9,198.2L396.6,196.8L397.7,196.1L397.8,195.3L401.2,195.8L403.3,194.9L406.2,193.9L407.8,194.3L409.4,195.3L407.9,196.3L406.3,199.6L404.5,200L403.2,200L401.8,200.7L399.1,200.5L396.9,199.1Z"><title>Hungary</title></path>
<path fill="#7fcdbb" d="M397.2,193.8L397.8,195.3L401.2,195.8L403.3,194.9L406.2,193.9L407.8,194.3L408.4,192.5L405.2,191.8L403.2,192L400.8,191.5L399.3,192.8L397.7,193.2Z"><title>Slovakia</title></path>
<path fill="#c7e9b4" d="M387.2,189.5L388.7,189.2L391.4,187.7L392.8,187.7L395.5,188.6L396.7,189.2L398.3,189.5L400.8,191.5L399.3,192.8L397.7,193.2L397.2,193.8L395.5,193.4L393.2,192.8L392.7,193.8L390.8,193.4L388.1,191Z"><title>Czechia</title></path>
<path fill="#c7e9b4" d="M390.6,180.5L394.4,179.5L398.3,178.3L399.2,179.2L400.9,179.1L407.1,179.4L408.6,180.4L409.8,182.7L409.9,183.5L408.6,184.5L409.8,186.2L410.7,188.2L408.7,192.3L408.4,192.5L405.2,191.8L403.2,192L400.8,191.5L398.3,189.5L396.7,189.2L395.5,188.6L392.8,187.7L391.8,185.7L391.8,184L390.7,183.2L391.1,182Z"><title>Poland</title></path>
<path fill="#c7e9b4" d="M403.2,175.2L405,174.3L410.6,174.6L413.9,176L414.4,177L413.1,177.9L412.5,179.5L410.4,180.5L408.6,180.4L407.1,179.4L406.9,178L403.4,177Z"><title>Lithuania</title></path>
<path fill="#c7e9b4" d="M403.2,175.2L402.9,173.4L403.7,171.5L405.5,171L406.9,172.6L407.8,172.9L409,172.1L408.7,170.8L410.4,170.4L412.9,171.5L414.5,171.5L415.5,172.1L415.4,173.1L416.7,174.9L415.8,175.8L413.9,176L410.6,174.6L405,174.3Z"><title>Latvia</title></path>
<path fill="#c7e9b4" d="M408.7,170.8L408.4,169.7L406.8,168.7L406.6,167.5L410.1,166.6L414.9,166.9L414,168.3L414.4,169.7L414.5,171.5L412.9,171.5L410.4,170.4ZM403.9,169.2L405.9,169L405.5,170L404.2,170.4Z"><title>Estonia</title></path>
<path fill="#edf8b1" d="M408.6,180.4L410.4,180.5L412.5,179.5L413.1,177.9L414.4,177L413.9,176L415.8,175.8L416.7,174.9L419.2,175.9L422.3,176.3L422.4,178.3L424.7,180.1L426.4,182L424.3,182.2L425.6,185L423.5,187L421,186.7L418,186.2L412.9,185.3L409.8,186.2L408.6,184.5L409.9,183.5L409.8,182.7Z"><title>Belarus</title></path>
<path fill="#7fcdbb" d="M407.8,194.3L408.4,192.5L408.7,192.3L410.7,188.2L409.8,186.2L412.9,185.3L418,186.2L421,186.7L423.5,187L425.6,185L429.5,184.3L430.9,185.7L434,189.2L439.1,190.5L443.4,191.3L443.8,195.8L440.9,197.6L438.2,198.6L434.9,199.6L435,201.2L438.4,202L436.1,203L432.4,204.5L432.4,202.7L430,202.1L431.9,200.2L428,198.9L425.9,199.1L424.1,202.1L421.1,201.8L422.4,199.5L424.2,199.1L422.1,195.4L419.2,194.2L416.8,194.7L413.6,195.9L409.4,195.3Z"><title>Ukraine</title></path>
<path fill="#c7e9b4" d="M433.2,228.7L434.6,228L437.9,227.2L436.9,228.9L434.8,229.9Z"><title>Cyprus</title></path>
<path fill="#225ea8" d="M333.7,248L337.4,246.4L340.8,243.5L341.6,240.6L341.4,238L342.6,235.1L346.4,232.5L348.2,231.2L350,228.4L350.2,226.8L351.5,226.5L353.2,228.4L356.5,228.1L358.2,228.6L359.1,230.4L359.3,233.3L360.4,235.4L356.6,236.4L355.1,237.5L354.8,239.6L351.9,241.9L348.6,243L343.7,245.3L343.7,248Z"><title>Morocco</title></path>
<path fill="#081d58" d="M324.5,265.9L324.7,264.5L333.6,264.5L333.7,260.2L336,259L336.2,252.4L343.6,252.4L343.7,249L352,255L348.5,255L349.5,266.3L350.5,277.6L350.9,277.9L350.4,279.8L341.2,279.8L338.7,280.7L336.8,280L336,281.6L335.2,282.1L333.7,280.3L332.4,278.3L329.8,276.9L327.4,277.5L325.5,278.1L325.9,275.3L326.3,273L326,270.4L326.1,267.8L325.6,266.5Z"><title>Mauritania</title></path>
<path fill="#225ea8" d="M324.8,284.7L323.9,282.7L323.1,281.8L323.8,281.3L324.9,279.4L325.5,278.1L327.4,277.5L329.8,276.9L332.4,278.3L333.7,280.3L335.2,282.1L335.3,283.7L335.7,285.2L336.6,285.9L336.8,286.9L336.7,287.7L335.1,287.7L332.7,287.4L331.6,287.4L327.4,287.2L324.8,287.9L324.5,285.9L326.6,285.9L328.4,284.9L330.3,285.6L331.4,284.9L330.1,284.6L328.5,284L327.3,284.7Z"><title>Senegal</title></path>
<path fill="#172976" d="M324.5,285.9L326.6,285.9L328.4,284.9L330.3,285.6L331.4,284.9L330.1,284.6L328.5,284L327.3,284.7L324.8,284.7Z"><title>Gambia</title></path>
<path fill="#081d58" d="M324.8,287.9L327.4,287.2L331.6,287.4L331.5,289.4L330.1,290.2L328.3,291.4L327.1,290.3L325.6,289.4Z"><title>Guinea-Bissau</title></path>
<path fill="#1d91c0" d="M331.6,287.4L332.7,287.4L335.1,287.7L336.7,287.7L337.1,288.7L338.1,288.4L339.7,289.3L341.6,288L342.6,288.7L343.8,290.5L343.2,292L344,292L344.6,293.6L343.9,294.7L345,297.8L343.9,298.5L343.6,300.1L342.5,301.1L341.4,300.6L341.5,299.5L340.6,297.9L339.5,298.3L338.9,298.4L338.5,296.8L338.1,294.9L337.5,294L335.7,294L334.5,294.5L333.8,295.8L332.6,297L330.7,294.4L329.6,293.6L329,291.8L328.3,291.4L330.1,290.2L331.5,289.4Z"><title>Guinea</title></path>
<path fill="#081d58" d="M332.6,297L333.8,295.8L334.5,294.5L335.7,294L337.5,294L338.1,294.9L338.5,296.8L338.9,298.4L339.5,298.3L338.4,299.5L337.4,300.9L336.7,302.5L336.1,302.3L334.4,301.3L333.2,299.8L332.9,298.9Z"><title>Sierra Leone</title></path>
<path fill="#081d58" d="M336.7,302.5L337.4,300.9L338.4,299.5L339.5,298.3L340.6,297.9L341.5,299.5L341.4,300.6L342.5,301.1L343.6,300.1L343.5,300.9L343.7,302.2L343.2,303.3L345.6,305.3L345.6,306.3L345.4,306.7L345.2,308.8L342.3,307.6L340.2,305.6L338.2,304.2Z"><title>Liberia</title></path>
<path fill="#172976" d="M345.2,308.8L345.4,306.7L345.6,306.3L345.6,305.3L343.2,303.3L343.7,302.2L343.5,300.9L343.6,300.1L343.9,298.5L345,297.8L343.9,294.7L344.6,293.6L345.5,293.7L347.3,293.7L348.8,292.8L349.7,293.5L350.6,293.1L351.6,293.7L353.1,295.1L353.9,294.5L356.5,295L357.1,298.8L356.1,300.9L355.5,303.9L356.5,306.1L356.4,307.2L355.4,307.2L352.3,306.7L349.6,307.2L345.7,308.9Z"><title>Cote d'Ivoire</title></path>
<path fill="#172976" d="M350.6,293.1L350.5,291.6L351.1,290.5L351,289.6L352.9,287.5L353.2,285.7L353.8,285.1L355,285.4L355.9,284.9L356.2,284.2L358,283L358.4,282.2L360.6,281.1L361.8,280.7L362.4,281.3L363.8,281.2L363.7,282.5L364,283.7L365.3,285.4L365.3,286.7L368,287.2L367.9,289L367.4,289.8L366.3,290.1L365.8,291.2L365.1,291.5L363,291.4L362,291.2L361.3,291.7L360.2,291.5L356.3,291.6L356.2,293.1L356.5,295L353.9,294.5L353.1,295.1L351.6,293.7Z"><title>Burkina Faso</title></path>
<path fill="#225ea8" d="M356.4,307.2L356.5,306.1L355.5,303.9L356.1,300.9L357.1,298.8L356.5,295L356.2,293.1L356.3,291.6L360.2,291.5L361.3,291.7L362,291.2L363,291.4L362.9,292.3L363.8,293.6L363.8,295.5L364.1,297.6L364.6,298.5L364.1,300.9L364.3,302.2L364.9,303.8L365.4,304.7L361.8,306.3L360.6,307.2L358.5,307.9Z"><title>Ghana</title></path>
<path fill="#172976" d="M369.2,303.9L369.3,299.7L369.2,298L369.7,296.4L370.4,295.6L371.5,294L371.3,293.2L371.7,292.2L371.2,290.6L371.3,289.8L371.4,287.5L372.1,286.4L372.4,284.9L373,284.3L375.4,284L377.7,285L378.6,286L379.8,286L380.8,285.4L383.6,286.7L384.8,286.7L386.1,285.6L387.5,285.6L388.1,285.3L389.4,285.4L391.1,286.2L392.9,284.7L393.4,284.8L395,287.7L395.5,287.6L396.4,288.7L396.1,289.2L396,290L394.1,292L393.5,293.7L393.2,295L392.7,295.6L392.3,297.4L391.1,298.5L390.7,299.8L390.2,300.9L390,302L388.4,302.9L387.1,301.8L386.3,301.8L384.9,303.4L384.2,303.4L383.2,305.9L382.6,307.8L380.2,308.7L379.3,308.6L378.4,309.1L376.6,309.1L375.3,307.4L374.6,305.6L373,303.8L371.2,303.9Z"><title>Nigeria</title></path>
<path fill="#172976" d="M367.9,289L368,287.2L365.3,286.7L365.3,285.4L364,283.7L363.7,282.5L363.8,281.2L365.3,281.1L366.2,280.2L369.3,280L371.3,279.6L371.5,278L372.7,276.2L372.7,270.2L375.9,269.1L382.3,263.9L390,259L393.6,260.1L394.9,261.5L396.4,260.6L397.1,264.6L398,265.3L398,266.1L399,267L398.5,268.1L397.8,273.4L397.7,276.8L394.8,279.3L393.9,282.7L394.9,283.7L394.9,285.4L396.4,285.4L396.2,286.6L395.5,286.8L395.5,287.6L395,287.7L393.4,284.8L392.9,284.7L391.1,286.2L389.4,285.4L388.1,285.3L387.5,285.6L386.1,285.6L384.8,286.7L383.6,286.7L380.8,285.4L379.8,286L378.6,286L377.7,285L375.4,284L373,284.3L372.4,284.9L372.1,286.4L371.4,287.5L371.3,289.8L369.5,288.3L368.7,288.3Z"><title>Niger</title></path>
<path fill="#225ea8" d="M358.2,228.6L360.4,227.1L362.8,226.5L366.2,224.7L369.5,224.2L373.8,224.1L376.6,223.4L378.7,223.4L381.1,223.8L380.8,225.2L381.2,227.6L380.7,229.8L379.4,231.2L379.6,233.2L381.5,234.7L381.5,235.4L382.9,236.4L384,241.1L384.7,243.4L384.9,244.6L384.5,246.8L384.7,248L384.5,249.4L384.7,251L383.8,252.1L385.2,254L385.3,255.1L386.1,256.6L387.2,256.1L389,257.3L390,259L382.3,263.9L375.9,269.1L372.7,270.2L370.2,270.5L370.1,268.8L369.1,268.4L367.7,267.7L367.1,266.4L359.5,260.7L352,255L343.7,249L343.7,248L343.7,245.3L348.6,243L351.9,241.9L354.8,239.6L355.1,237.5L356.6,236.4L360.4,235.4L359.3,233.3L359.1,230.4Z"><title>Algeria</title></path>
<path fill="#41b6c4" d="M381.1,223.8L383.4,222.8L385,223.1L385,224.4L386.8,223.4L386.9,223.9L385.9,225.2L385.9,226.4L386.7,227.1L386.5,229.3L385.1,230.6L385.6,232L386.7,232.1L387.3,233.3L388.1,233.7L388.1,235.7L387,236.5L386.4,237.3L384.9,238.3L385.2,239.4L385,240.5L384,241.1L382.9,236.4L381.5,235.4L381.5,234.7L379.6,233.2L379.4,231.2L380.7,229.8L381.2,227.6L380.8,225.2Z"><title>Tunisia</title></path>
<path fill="#1d91c0" d="M388.1,233.7L390.7,234.6L391.7,234.4L393.5,234.9L396.5,236L397.6,238.3L399.6,238.8L402.8,239.9L405.2,241.2L406.2,240.5L407.2,239.3L406.6,237.4L407.2,236.1L408.7,234.9L410.2,234.5L413.2,235L414,236.2L414.9,236.2L415.6,236.7L417.8,237L418.4,237.8L417.7,239.1L418.1,240.2L417.6,241.8L418.4,243.9L419,253.2L419.4,262.8L419.6,268L417,268L417,269.1L407.8,264.1L398.7,259.1L396.4,260.6L394.9,261.5L393.6,260.1L390,259L389,257.3L387.2,256.1L386.1,256.6L385.3,255.1L385.2,254L383.8,252.1L384.7,251L384.5,249.4L384.7,248L384.5,246.8L384.9,244.6L384.7,243.4L384,241.1L385,240.5L385.2,239.4L384.9,238.3L386.4,237.3L387,236.5L388.1,235.7Z"><title>Libya</title></path>
<path fill="#253494" d="M418.4,237.8L421.3,237.8L423.5,238.5L425.7,239.2L426.8,239.7L428.4,238.8L429.3,238.1L431.2,237.9L432.8,238.2L433.5,239.5L433.9,238.6L435.8,239.3L437.5,239.4L438.5,238.7L440.4,243.2L439.9,244.3L439.6,246.3L439.1,247.6L438.6,248.1L437.8,247.2L436.7,246L434.8,242.3L434.6,242.6L435.7,245.3L437.3,247.9L439.3,252L440.2,253.4L441,254.9L443.2,257.8L442.8,258.2L443,259.9L445.7,262.3L446.2,262.8L419.4,262.8L419,253.2L418.4,243.9L417.6,241.8L418.1,240.2L417.7,239.1Z"><title>Egypt</title></path>
<path fill="#172976" d="M396.2,286.6L397.1,288.3L397.3,290L397.2,291.8L398.5,294.2L397.2,294.1L396.6,294.3L395.5,294.1L395,295.3L396.4,296.8L397.4,297.2L397.7,298.3L398.5,300.1L398.1,300.8L397,303.5L396.4,303.9L396.3,306L396.5,307.1L396.3,307.9L397.4,309.2L397.6,310.2L398.5,311.5L399.5,312.3L399.7,313.5L399.9,314.3L399.7,315.7L397.9,315.1L396,314.4L393.1,314.3L392.8,314.1L391.5,314.5L390.1,314.1L389,314.3L385.2,314.3L385.6,312.2L384.6,310.5L383.6,310L383.1,308.9L382.5,308.5L382.6,307.8L383.2,305.9L384.2,303.4L384.9,303.4L386.3,301.8L387.1,301.8L388.4,302.9L390,302L390.2,300.9L390.7,299.8L391.1,298.5L392.3,297.4L392.7,295.6L393.2,295L393.5,293.7L394.1,292L396,290L396.1,289.2L396.4,288.7L395.5,287.6L395.5,286.8Z"><title>Cameroon</title></path>
<path fill="#081d58" d="M389,314.3L390.1,314.1L391.5,314.5L392.8,314.1L393.1,314.3L393,315.4L393.6,316.8L395.3,316.5L395.9,317.1L394.9,320.1L396,321.6L396.3,323.7L395.9,325.4L395.2,326.6L393.2,326.5L392,325.3L391.8,326.4L390.2,326.7L389.4,327.4L390.3,329.1L388.5,330.6L386.2,327.9L384.7,325.8L383.3,323.1L383.3,322.2L383.9,321.4L384.4,319.5L384.9,317.6L385.7,317.4L389,317.4Z"><title>Gabon</title></path>
<path fill="#081d58" d="M393.1,314.3L396,314.4L397.9,315.1L399.7,315.7L399.9,314.3L401.1,311.9L402.4,310.5L404,310.9L405.5,311.1L405.4,312.6L404.7,314L404.2,315.7L404,318L404.1,319.4L403.7,320.4L403.7,321.3L403.4,322.1L401.9,323.4L400.8,324.7L399.8,327.3L399.9,329.4L399.3,330.3L397.9,331.5L396.6,333.2L395.7,332.7L395.6,332L394.3,331.9L393.5,332.9L392.9,332.7L392.1,331.8L391.4,332.2L390.4,333.4L388.5,330.6L390.3,329.1L389.4,327.4L390.2,326.7L391.8,326.4L392,325.3L393.2,326.5L395.2,326.6L395.9,325.4L396.3,323.7L396,321.6L394.9,320.1L395.9,317.1L395.3,316.5L393.6,316.8L393,315.4Z"><title>Congo</title></path>
<path fill="#172976" d="M434,311L432,309.3L431.4,308.2L430.1,308.7L429.1,308.6L428.5,309L427.4,308.7L426,306.6L425.2,306.8L423.8,306.8L422,306.5L421.2,306.7L420.8,307.3L420.1,307.4L419.2,306.9L416.6,308.2L415.6,307.9L415.3,308.1L414.6,309.7L412.9,309.2L411.2,308.9L409.7,308L407.8,307.1L406.6,307.9L405.7,309.2L405.5,311.1L405.4,312.6L404.7,314L404.2,315.7L404,318L404.1,319.4L403.7,320.4L403.7,321.3L403.4,322.1L401.9,323.4L400.8,324.7L399.8,327.3L399.9,329.4L399.3,330.3L397.9,331.5L396.6,333.2L395.7,332.7L395.6,332L394.3,331.9L393.5,332.9L392.9,332.7L392.1,333.2L391.7,333.9L391.6,335L391,335.3L391.3,336.1L392.3,335.8L393,335.8L400.6,335.5L401.1,337.5L401.8,339L402.3,339.9L403.1,341.3L404.7,341L405.4,340.7L406.7,341L407.1,340.4L407.6,338.9L409.1,338.8L409.2,338.3L410.4,338.3L410.1,339.2L413,339.2L413,340.9L413.4,341.9L413.1,343.4L413.2,345L414,346L413.8,349.1L414.3,348.9L415.4,349L416.8,348.6L417.8,348.7L418.6,348.8L418.7,349.6L419.8,349.5L421.2,349.8L422,350.9L423.8,351.3L425.2,350.5L425.7,351.8L427.5,352.2L428.3,353.3L429.2,354.8L430.9,354.8L430.8,352L430.2,352.4L428.6,351.4L428,351L428.3,348.4L428.8,345.3L428.3,344.1L429,342.5L429.6,342.1L432.7,341.7L433.6,342L432.4,338.7L431.1,337.2L430.7,335.7L430.9,334.3L430.5,331.9L430.4,328.8L429.8,327.6L430.1,326.2L430.4,326L430.5,324.4L431.2,323.7L431.2,321.7L431.7,320.7L431.9,318.6L432.3,317.4L433.2,316.1L434.1,315.4L434.8,314.5L433.9,314.1Z"><title>Democratic Republic of Congo</title></path>
<path fill="#253494" d="M391.3,336.1L392.3,335.8L393,335.8L400.6,335.5L401.1,337.5L401.8,339L402.3,339.9L403.1,341.3L404.7,341L405.4,340.7L406.7,341L407.1,340.4L407.6,338.9L409.1,338.8L409.2,338.3L410.4,338.3L410.1,339.2L413,339.2L413,340.9L413.4,341.9L413.1,343.4L413.2,345L414,346L413.8,349.1L414.3,348.9L415.4,349L416.8,348.6L417.8,348.7L418,349.5L417.7,350.8L418.1,352L417.8,353L418,353.9L413.2,353.9L412.9,362.2L414.3,364.3L415.8,365.9L411.6,367L406.1,366.6L404.5,365.4L395.3,365.5L395,365.7L393.6,364.5L392.1,364.4L390.8,364.8L389.7,365.3L389.5,363.7L389.8,361.4L390.7,359L390.8,357.9L391.6,355.6L392.1,354.5L393.5,352.8L394.2,351.6L394.5,349.7L394.4,348.2L393.7,347.3L393.1,345.7L392.6,344.1L392.7,343.6L393.4,342.5L392.7,340L392.3,338.3L391.1,336.6ZM391,335.3L390.4,333.4L391.4,332.2L392.1,331.8L392.9,332.7L392.1,333.2L391.7,333.9L391.6,335Z"><title>Angola</title></path>
<path fill="#081d58" d="M431.2,323.7L431.2,321.7L431.7,320.7L431.9,318.6L432.3,317.4L433.2,316.1L434.1,315.4L434.8,314.5L433.9,314.1L434,311L435,310.3L436.4,310.9L438.3,310.3L439.9,310.3L441.3,309.1L442.4,310.9L442.7,312.2L443.7,315.2L442.9,317.1L441.8,318.8L441.1,319.9L441.1,322.7L436.4,322.9L433.9,322.8L433.1,323.1L431.7,324Z"><title>Uganda</title></path>
<path fill="#172976" d="M441.1,322.7L441.1,319.9L441.8,318.8L442.9,317.1L443.7,315.2L442.7,312.2L442.4,310.9L441.3,309.1L442.7,307.5L444.2,305.8L445.4,306.3L445.5,307.7L446.2,308.6L447.9,308.6L450.8,310.8L451.5,310.8L452.1,310.8L452.6,311.1L454.1,311.3L454.8,310.2L456.9,309.1L457.8,310L459.4,310L457.4,312.9L457.5,322.4L458.8,324.6L457.2,325.6L456.6,326.7L455.7,326.9L455.4,328.8L454.7,329.8L454.2,331.5L453.2,332.4L450,329.8L449.8,328.3L441.5,323Z"><title>Kenya</title></path>
<path fill="#172976" d="M441.1,322.7L441.5,323L449.8,328.3L450,329.8L453.2,332.4L452.1,335.6L452.2,337.1L453.7,338L453.7,338.7L453.1,340.3L453.2,341.1L453,342.4L453.8,344L454.6,346.6L455.5,347.1L453.6,348.6L451.1,349.7L449.7,349.6L448.8,350.4L447.3,350.4L446.6,350.8L443.9,350L442.2,350.3L441.6,346.7L440.9,345.5L440.4,344.8L438.2,344.3L436.9,343.5L435.5,343.1L434.6,342.6L433.6,342L432.4,338.7L431.1,337.2L430.7,335.7L430.9,334.3L430.5,331.9L431.5,331.8L432.4,330.9L433.3,329.5L433.8,329L433.8,328.1L433.3,327.5L433.2,326.5L433.9,326.2L434,324.6L433.1,323.1L433.9,322.8L436.4,322.9Z"><title>Tanzania</title></path>
<path fill="#081d58" d="M433.1,323.1L434,324.6L433.9,326.2L433.2,326.5L432,326.3L431.3,327.8L429.8,327.6L430.1,326.2L430.4,326L430.5,324.4L431.2,323.7L431.7,324Z"><title>Rwanda</title></path>
<path fill="#172976" d="M446.2,282.6L448.9,283.1L449.5,281.2L450.9,282.3L452.2,281.7L452.8,282.3L454.4,282.3L456.4,283.4L457.1,284.3L458.1,285.1L459.1,286.6L459.9,287.5L459.2,288.6L458.4,289.9L458.6,290.6L458.7,291.4L460,291.4L460.5,291.2L461.1,291.7L460.6,292.6L461.5,294.1L462.4,295.3L463.3,296.2L470.9,299.3L472.8,299.3L466.5,307.2L463.5,307.3L461.5,309.1L460,309.2L459.4,310L457.8,310L456.9,309.1L454.8,310.2L454.1,311.3L452.6,311.1L452.1,310.8L451.5,310.8L450.8,310.8L447.9,308.6L446.2,308.6L445.5,307.7L445.4,306.3L444.2,305.8L442.8,303L441.8,302.4L441.3,301.3L440.1,300.1L438.7,299.9L439.5,298.4L440.7,298.3L441,297.6L440.9,295.4L441.6,292.5L442.6,291.7L442.8,290.7L443.7,288.7L445.1,287.4L445.9,284.8Z"><title>Ethiopia</title></path>
<path fill="#c7e9b4" d="M461.6,287.1L462.2,287.9L462.1,289L460.9,289.6L461.9,290.3L461.1,291.7L460.5,291.2L460,291.4L458.7,291.4L458.6,290.6L458.4,289.9L459.2,288.6L459.9,287.5L460.9,287.7Z"><title>Djibouti</title></path>
<path fill="#172976" d="M433.6,342L434.6,342.6L435.5,343.1L436.9,343.5L438.2,344.3L439.3,345.5L439.8,347.7L439.4,348.4L438.9,350.5L439.2,352.7L438.5,353.5L437.7,356L438.9,356.7L431.9,358.8L432,360.7L430.3,361L429,362.1L428.7,363L427.8,363.2L425.8,365.3L424.4,367L423.7,367.1L422.9,366.8L420.4,366.5L420,366.3L420,366.1L419.1,365.5L417.6,365.3L415.8,365.9L414.3,364.3L412.9,362.2L413.2,353.9L418,353.9L417.8,353L418.1,352L417.7,350.8L418,349.5L417.8,348.7L418.6,348.8L418.7,349.6L419.8,349.5L421.2,349.8L422,350.9L423.8,351.3L425.2,350.5L425.7,351.8L427.5,352.2L428.3,353.3L429.2,354.8L430.9,354.8L430.8,352L430.2,352.4L428.6,351.4L428,351L428.3,348.4L428.8,345.3L428.3,344.1L429,342.5L429.6,342.1L432.7,341.7Z"><title>Zambia</title></path>
<path fill="#172976" d="M440.4,344.8L440.9,345.5L441.6,346.7L442.2,350.3L441.5,352.2L442,355.6L442.8,355.6L443.6,356.4L444.5,358.3L444.5,361.7L443.5,362.2L442.7,364L441.3,362.4L441.2,360.6L441.8,359.4L441.7,358.3L440.8,357.7L440.2,357.9L438.9,356.7L437.7,356L438.5,353.5L439.2,352.7L438.9,350.5L439.4,348.4L439.8,347.7L439.3,345.5L438.2,344.3Z"><title>Malawi</title></path>
<path fill="#081d58" d="M442.2,350.3L443.9,350L446.6,350.8L447.3,350.4L448.8,350.4L449.7,349.6L451.1,349.7L453.6,348.6L455.5,347.1L455.8,348.3L455.6,350.9L455.8,353.2L455.7,357.3L456.1,358.5L455.3,360.4L454.3,362.2L452.8,363.8L450.7,364.8L448,366.1L445.3,368.9L444.4,369.4L442.7,371.2L441.8,371.8L441.5,373.7L442.5,375.6L442.8,377.2L442.8,378L443.2,377.8L443,380.4L442.6,381.6L443.1,382.1L442.7,383.1L441.7,384.1L439.8,385L437,386.4L435.9,387.3L436,388.4L436.6,388.6L436.3,390L434.6,389.9L434.5,388.8L434.3,387.6L434.1,386.7L434.7,383.8L434.2,381.9L433.3,378.3L435.8,375.3L436.5,373.4L436.9,373.2L437.2,371.7L436.9,370.9L437.1,368.9L437.6,367.1L437.8,363.8L436.6,363L435.5,362.8L435.1,362.1L434,361.6L432.1,361.6L432,360.7L431.9,358.8L438.9,356.7L440.2,357.9L440.8,357.7L441.7,358.3L441.8,359.4L441.2,360.6L441.3,362.4L442.7,364L443.5,362.2L444.5,361.7L444.5,358.3L443.6,356.4L442.8,355.6L442,355.6L441.5,352.2Z"><title>Mozambique</title></path>
<path fill="#172976" d="M433.3,378.3L432.1,378L431.4,378.3L430.3,377.9L429.4,377.8L428,376.7L426.3,376.3L425.7,374.6L425.7,373.7L424.8,373.4L422.3,370.5L421.6,369L421.2,368.6L420.4,366.5L422.9,366.8L423.7,367.1L424.4,367L425.8,365.3L427.8,363.2L428.7,363L429,362.1L430.3,361L432,360.7L432.1,361.6L434,361.6L435.1,362.1L435.5,362.8L436.6,363L437.8,363.8L437.6,367.1L437.1,368.9L436.9,370.9L437.2,371.7L436.9,373.2L436.5,373.4L435.8,375.3Z"><title>Zimbabwe</title></path>
<path fill="#225ea8" d="M421.2,368.6L421.6,369L422.3,370.5L424.8,373.4L425.7,373.7L425.7,374.6L426.3,376.3L428,376.7L429.4,377.8L426.1,379.8L424,381.7L423.2,383.4L422.5,384.4L421.2,384.6L420.8,385.9L420.5,386.7L419,387.3L417.2,387.2L416.2,386.4L415.2,386.1L414.1,386.7L413.5,388L412.4,388.8L411.3,389.9L409.6,390.2L409.2,389.3L409.5,387.7L408.2,385.2L407.7,384.8L407.9,377.2L410.1,377.1L410.5,367.8L412.2,367.7L415.7,366.8L416.5,367.9L418,366.9L418.7,366.9L420,366.3L420.4,366.5Z"><title>Botswana</title></path>
<path fill="#41b6c4" d="M389.7,365.3L390.8,364.8L392.1,364.4L393.6,364.5L395,365.7L395.3,365.5L404.5,365.4L406.1,366.6L411.6,367L415.8,365.9L417.6,365.3L419.1,365.5L420,366.1L420,366.3L418.7,366.9L418,366.9L416.5,367.9L415.7,366.8L412.2,367.7L410.5,367.8L410.1,377.1L407.9,377.2L407.7,384.8L407.2,394.5L405.2,395.8L404,396L402.6,395.5L401.6,395.3L401.3,394.2L400.4,393.5L399.3,394.8L397.7,392.8L396.9,390.9L396.5,388.4L396,386.4L395.4,382.4L395.4,379.3L395.2,377.9L394.3,376.8L393.2,374.7L392.1,371.5L391.6,369.9L389.8,367.3Z"><title>Namibia</title></path>
<path fill="#1d91c0" d="M399.3,394.8L400.4,393.5L401.3,394.2L401.6,395.3L402.6,395.5L404,396L405.2,395.8L407.2,394.5L407.7,384.8L408.2,385.2L409.5,387.7L409.2,389.3L409.6,390.2L411.3,389.9L412.4,388.8L413.5,388L414.1,386.7L415.2,386.1L416.2,386.4L417.2,387.2L419,387.3L420.5,386.7L420.8,385.9L421.2,384.6L422.5,384.4L423.2,383.4L424,381.7L426.1,379.8L429.4,377.8L430.3,377.9L431.4,378.3L432.1,378L433.3,378.3L434.2,381.9L434.7,383.8L434.1,386.7L434.3,387.6L433.2,387.2L432.5,387.3L432.2,388.1L431.6,389.1L431.5,390L432.8,391.4L434.1,391.1L434.6,389.9L436.3,390L435.6,391.9L435.2,394L434.5,395.2L432.9,396.5L432.5,396.9L431.4,398.2L430.7,399.6L429.3,401.5L426.5,404.1L424.8,405.7L423.1,406.9L420.7,407.9L419.6,408.1L419.3,408.8L417.9,408.4L416.8,408.9L414.5,408.4L413.2,408.7L412.3,408.5L409.9,409.6L408.1,410L406.6,411L405.7,411.1L404.8,410.1L404.1,410.1L403.2,408.9L403.1,409.3L402.8,408.6L402.9,407L402.3,405.3L403,404.8L403.1,402.8L401.8,400.4L400.8,398.2Z"><title>South Africa</title></path>
<path fill="#081d58" d="M427.3,395.8L428,396.5L427.3,397.8L426.8,398.7L425.5,399.1L425.1,399.9L424.3,400.2L422.8,398.2L424.1,396.5L425.3,395.5L426.4,395Z"><title>Lesotho</title></path>
<path fill="#1d91c0" d="M434.6,389.9L434.1,391.1L432.8,391.4L431.5,390L431.6,389.1L432.2,388.1L432.5,387.3L433.2,387.2L434.3,387.6L434.5,388.8Z"><title>Eswatini</title></path>
<path fill="#081d58" d="M476.4,352.7L477,353.9L477.4,355.6L477.6,358.7L478.1,359.9L477.8,361.2L477.4,361.9L476.7,360.4L476.2,361.2L476.5,363.1L476.3,364.2L475.6,364.8L475.3,367L474.2,370.1L472.8,373.7L471.1,378.6L469.9,382.2L468.6,385.3L466.7,385.9L464.7,387L463.5,386.3L461.8,385.4L461.3,384L461.3,381.7L460.7,379.6L460.6,377.8L461.1,375.9L462.2,375.4L462.2,374.5L463.4,372.6L463.7,370.9L463.3,369.7L463,368L462.9,365.6L463.8,364.2L464.2,362.5L465.4,362.4L466.7,361.9L467.5,361.4L468.6,361.4L469.9,359.9L471.9,358.3L472.7,357L472.4,355.8L473.4,356.2L474.7,354.4L474.8,352.8L475.6,351.6Z"><title>Madagascar</title></path>
<path fill="#081d58" d="M462,349.9L462.7,350.5L462.5,351.4L461.9,351ZM464.2,351.8L465,352L464.9,352.6L464.2,352.3Z"><title>Comoros</title></path>
<path fill="#253494" d="M492.7,372.6L493.6,372.4L493.8,373.4L492.8,373.7Z"><title>Mauritius</title></path>
<path fill="#253494" d="M490.3,331.9L491,331.9L491,332.7L490.3,332.7Z"><title>Seychelles</title></path>
<path fill="#172976" d="M377.9,319.2L378.6,319.2L378.4,320.2L378,320.2Z"><title>Sao Tome and Principe</title></path>
<path fill="#253494" d="M531.8,309L532.4,309L532.5,310L531.8,310Z"><title>Maldives</title></path>
<path fill="#7fcdbb" d="M414.3,143.6L418.9,144L423.3,144.7L431.4,147.3L433.8,149.8L432.2,151.2L429.7,151.5L422.9,150.3L419.7,150L424.3,155.1L428.5,156.4L430.1,155.7L433.3,154.8L433.2,151.8L435.9,150.5L438.9,150.7L438.1,147.6L436.2,145.8L441,147.1L442.8,149.6L444.7,148L452.3,146L455.1,146.5L462.4,146L463.4,143.1L470.8,144.5L475.5,145.3L474.2,143.1L472.3,140.5L472.4,136.5L479,136.7L482.1,140.5L483.7,144.9L489.8,149.8L487.3,150.9L489.1,148.2L488.8,145.1L482.8,139.9L483,136.7L487.9,138L492.3,138.4L496.8,139.1L499.8,141.8L491.4,135.3L499.3,134.4L498,132.2L505.1,130.1L511.9,129.3L518.2,126.8L524,128.2L533.4,129.5L538.6,131.2L537.7,134.2L543.1,135.5L550,135.3L559,134.8L564.5,135.5L574.7,140.3L577.9,141L579,139.3L589.1,139.5L587.8,137.4L603.2,138L612,140.8L624.5,141.4L631.2,143.8L640.6,143.4L645.4,142.7L649.5,144.9L655.5,143.4L665,145.1L678.2,153.9L676.9,154.8L674.8,154.6L685.6,160.2L678.7,161.4L676.8,165.6L669.1,166.1L668.2,169.2L668.2,170.9L674.1,174.8L675.3,178.3L675.5,182.2L673.3,183L674.4,188L668.6,184L658.7,173.6L657.9,170.9L656.1,164.4L656.7,159.7L652.7,161.6L647.8,162.1L647.9,166.1L645.4,168L637.9,167.1L627.9,167.3L626.9,170.9L625.4,174.3L623.6,178.3L629.8,180.2L636.4,181.7L639,182.2L641,185.2L643.1,189L646.5,194L645.6,199.4L644.1,204.8L641.3,208.6L638.5,207.9L637.5,210.1L637,209.7L636.2,208.4L637.2,208.3L635.6,205.3L633.7,203.1L634.9,202.2L637.7,202.6L637.4,200.1L636.3,197.3L636.4,196.4L635.9,194.1L633.1,194.9L632,195.8L628.9,195.8L626.5,193.5L622.9,191.7L618.8,190.9L616.3,188.4L614.5,186.8L612.9,185.8L609.8,183.2L607.3,182.3L603.8,181.6L601.3,181.7L599.2,182.1L598.5,183.3L600,183.9L601.1,185.3L600.6,186.1L600.6,188.8L601.4,189.9L599.6,191.5L596.6,190.5L594.3,190.7L592.7,189.9L591.4,189.6L589.6,191.4L587.2,191.8L585.7,192.4L582.9,192L581.1,192.1L579.1,190.8L576.4,189.6L574.2,189.2L571.9,189.5L570.3,190L566.8,189L565.3,187.1L562.6,186.4L560.6,186.1L557.8,185.1L557.3,187.7L558.9,189.2L557.9,190.9L554.7,190.3L552.7,190.2L550.7,189L548.6,189L546.4,188.2L544,189.4L541.3,191.6L539.4,192L538.7,192.2L536.9,190.7L534.5,191L533.1,189.9L531.5,189.5L529.8,188L528.5,187.6L526,188.2L522.6,186.7L522.1,188.1L514.7,181.7L511.3,179.8L511.6,179L507.9,181.4L506.1,181.5L505.6,180.1L502.7,179.3L501,179.9L499.2,177.3L495.5,176.8L494.2,177.8L489.8,178.8L489.1,179.4L482.2,180.2L481.7,181.1L483.7,182.8L482.1,183.4L482.7,184.1L481.3,185.3L485.1,187L485,188.2L482.2,188.1L481.8,188.9L478.9,187.6L475.7,187.6L474,188.7L471.3,187.7L466.4,185.9L463.3,186L460,188.7L460.3,190.6L457.8,189.1L456.9,191.9L457.7,192.4L457,194.3L459.1,196L460.6,196L462.3,197.7L462.4,199L463.6,199.4L463,200.9L461.1,201.3L459.6,204L462.1,206.4L462.3,208.1L465.2,211.2L464.2,212.2L464,212.9L463,212.7L461.2,211.1L460.6,211.1L458.3,209.4L454.6,208.8L451.5,207.6L446.5,206.7L446.4,207.1L443.2,204.8L440.7,203.8L438.7,202.4L440.1,202L441.4,199.8L440,198.8L442.9,197.8L442.7,197.2L440.9,197.6L443.8,195.8L443.4,191.3L439.1,190.5L434,189.2L430.9,185.7L429.5,184.3L425.6,185L424.3,182.2L426.4,182L424.7,180.1L422.4,178.3L422.3,176.3L419.2,175.9L416.7,174.9L415.4,173.1L415.5,172.1L414.5,171.5L414.4,169.7L414,168.3L414.9,166.9L416.8,165.9L418.6,165.7L416.3,165.1L415.3,164.2L413.9,164.3L417.3,161.4L419.5,158.8L416.2,156.9L416.9,155.7L415.1,154.1L415.3,152.3L412.8,149.6L414,147.8L411.2,146.7L411.4,144.8ZM400.9,179.1L401.3,178L403.4,177L406.9,178L407.1,179.4ZM648.8,188.4L654.4,192.8L650.8,192L652.3,195.7L656.2,198.3L657.4,200.1L654.8,198.5L654.8,200.5L652.9,198.3L651.4,195.9L649.1,193.1L648.1,191.2L645.5,187.9L642.2,185.4L639.5,182L640.3,180.8L638.4,179.7L639,179.3L641,181L643.8,183.4L645.9,185.8ZM457.5,141.2L456.6,141.3L451.1,141.1L450.2,140.1L447,139.5L446.2,138.4L447.6,137.9L446.9,136.8L449.1,135L447.5,134.7L450.2,132.9L449.2,132L452,130.9L456.1,129.6L460.9,129.3L462.9,128.5L465.7,128.3L467.4,129.1L466.8,129.7L462.2,130.7L458.2,131.6L454.6,133.6L453.5,135.6L452.1,137.6L453.4,139.4ZM508.8,124.6L505.9,124.8L501.2,124.3L497.9,123.6L495.2,122.3L492.8,121.9L495,120.8L497.5,120.4L501.4,121.2L507,122.9ZM510.6,125.8L514.3,126.4L517.7,125.7L514.4,124.3L509.6,124ZM574.9,131.8L580.9,132.6L584.6,132L588.2,131.4L592,131.8L594.7,131.6L586.2,130.1L580,130.1L573.9,130.1ZM584.9,135.3L590.5,135.9L590.1,135.1L584.9,134.2ZM655.1,140.3L657.9,140.8L655.8,139.5L654.1,139.5ZM68.1,140.8L72.7,140.3L73.5,139.5L70.2,139.5ZM61,145.1L62.8,146.7L63.9,148.9L66.5,149.4L69.6,149.6L69,151.4L66.3,152.5L62.2,153L59.1,155.3L56.3,155.5L55.9,154.4L56.1,153L53,152.8L53.1,151.6L51,151.8L47.8,153.9Z"><title>Russia</title></path>
<path fill="#7fcdbb" d="M426.8,121.5L429.4,121.1L434.4,121.1L434.2,122L430.1,122.2ZM438.5,122L443.8,121.5L445.8,122.2L441.8,122.5Z"><title>Russia FJL</title></path>
<path fill="#225ea8" d="M450.6,212L450.6,210.7L449.8,209L446.4,207.1L446.5,206.7L451.5,207.6L454.6,208.8L458.3,209.4L460.6,211.1L460.1,211.4L461.5,212.8L461.2,213.1L460.1,213L458.3,212.2L457.9,212.6L455,213.1L454.8,213L452.8,211.8Z"><title>Georgia</title></path>
<path fill="#225ea8" d="M455,213.1L457.9,212.6L458.5,213.3L459.4,213.8L459.1,214.4L460.4,215.3L459.9,216.1L461,216.8L462,217.3L462.4,219.1L461.6,219.1L460.5,217.6L460.4,217.2L459.5,217.2L458.7,216.5L458.3,216.6L457.3,215.9L455.6,215.2L455.6,214L454.8,213Z"><title>Armenia</title></path>
<path fill="#1d91c0" d="M460.6,211.1L460.1,211.4L461.5,212.8L461.2,213.1L460.1,213L458.3,212.2L457.9,212.6L458.5,213.3L459.4,213.8L459.1,214.4L460.4,215.3L459.9,216.1L461,216.8L462,217.3L462.4,219.1L464.5,217.1L465.3,217L466.1,217.7L465.6,219L467.2,220.4L467.7,220.2L468,218.3L468.2,217.4L468.2,215.4L469.9,215.2L469.1,214.5L468.1,214.4L466.6,212.6L465.2,211.2L464.2,212.2L464,212.9L463,212.7L461.2,211.1ZM458.3,216.6L458.7,216.5L459.5,217.2L460.4,217.2L460.5,217.6L461.6,219.1L460.1,218.8L458.8,217.6Z"><title>Azerbaijan</title></path>
<path fill="#7fcdbb" d="M418.1,213.9L419.1,212.4L418.5,211.5L419.7,210.4L421.8,210.7L424.2,212.8L421.1,213.4L418.6,215.6ZM418.6,217.2L420.8,220L421.8,223.7L424.1,224.4L427.2,225.9L429,224.1L432.9,226L436.5,225.5L439.6,224.7L441.1,224.7L440.7,226.5L441.3,226.7L441.8,226.2L442.3,225.6L442.2,224.1L443,224.7L445.3,223.9L446.5,224.4L448.2,224.4L450.6,223.4L451.8,223.5L454.1,223.1L455,222.7L457.6,223L458.4,223.7L459.4,223.2L457.9,221.1L458.1,220.3L457,217.4L458.3,216.6L457.3,215.9L455.6,215.2L455.6,214L454.8,213L452.8,211.8L450.6,212L447.5,213.3L443.3,213.4L439.6,212.5L436.5,210.6L433,210.7L429.1,213L424.4,212.8L424.5,214.7L421.3,215L419.6,214.8L418.5,215.9Z"><title>Turkey</title></path>
<path fill="#225ea8" d="M447.8,233.1L443.9,235.9L441.3,234.9L441.3,234.8L441.5,234.4L441.4,233.4L441.7,232L442.8,231L442.3,229.9L441.3,229.8L440.9,227.8L441.3,226.7L441.8,226.2L442.3,225.6L442.2,224.1L443,224.7L445.3,223.9L446.5,224.4L448.2,224.4L450.6,223.4L451.8,223.5L454.1,223.1L453.3,224.7L452.2,225.3L452.7,227.2L452.3,230.4Z"><title>Syria</title></path>
<path fill="#7fcdbb" d="M441.4,233.4L440.8,233.4L440.6,233.9L439.9,233.9L440.4,231.7L441.3,229.9L441.3,229.8L442.3,229.9L442.8,231L441.7,232Z"><title>Lebanon</title></path>
<path fill="#7fcdbb" d="M441.3,234.9L441,235.7L441.2,237.3L440.9,238L441.1,239.1L440.4,243.2L438.5,238.7L439.1,237.9L438.9,237.7L439.4,236.5L439.6,234.5L439.8,233.9L439.9,233.9L440.6,233.9L440.8,233.4L441.4,233.4L441.5,234.4L441.3,234.8Z"><title>Israel</title></path>
<path fill="#7fcdbb" d="M441,235.7L441.3,234.9L443.9,235.9L447.8,233.1L449.1,236.3L448.7,236.7L444.5,238L446.9,240.6L446.3,241L446,241.9L444.3,242.3L443.9,243.2L443,244L440.5,243.6L440.4,243.2L441.1,239.1L440.9,238L441.2,237.3Z"><title>Jordan</title></path>
<path fill="#253494" d="M449.1,236.3L447.8,233.1L452.3,230.4L452.7,227.2L452.2,225.3L453.3,224.7L454.1,223.1L455,222.7L457.6,223L458.4,223.7L459.4,223.2L461.3,226.3L462.8,227.1L463.2,228.6L462.3,229.5L462.1,231.6L464,234L466.8,235.5L468.3,237.5L468.2,239.4L468.9,239.3L469.1,240.8L470.5,242.1L469.1,242L467.6,241.8L466.3,244.3L462.2,244.1L455.3,238.8L451.8,237Z"><title>Iraq</title></path>
<path fill="#1d91c0" d="M440.5,243.6L443,244L443.9,243.2L444.3,242.3L446,241.9L446.3,241L446.9,240.6L444.5,238L448.7,236.7L449.1,236.3L451.8,237L455.3,238.8L462.2,244.1L466.3,244.3L468.3,244.5L469,245.8L470.6,245.7L471.7,248L472.9,248.6L473.4,249.5L475,250.6L475.3,251.6L475.1,252.5L475.5,253.4L476.2,254.1L476.6,255L477,255.6L477.7,256.1L478.3,255.9L478.9,256.9L479,257.6L480.1,260.2L487,261.5L487.4,260.9L488.6,262.8L487.5,268L480.9,270.6L474.5,271.6L472.4,272.8L471,275.5L469.9,276L469.3,275.1L468.5,275.2L466.2,275L465.8,274.7L463.2,274.8L462.6,275L461.6,274.3L461.1,275.6L461.4,276.7L460.4,277.5L460.1,276.4L459.3,275.6L459.1,274.6L457.9,273.7L456.5,271.5L455.8,269.3L454.1,267.6L453,267.1L451.4,264.7L451,262.8L451,261.3L449.6,258.4L448.4,257.4L447.2,256.8L446.3,255.3L446.4,254.8L445.7,253.4L445,252.8L444,250.9L442.5,248.8L441.2,247L440.1,247L440.3,245.6L440.3,244.6Z"><title>Saudi Arabia</title></path>
<path fill="#41b6c4" d="M477,255.6L476.7,253.7L477.1,252.3L477.7,252.1L478.5,252.9L478.7,254.4L478.3,255.9L477.7,256.1Z"><title>Qatar</title></path>
<path fill="#41b6c4" d="M478.9,256.9L479.3,256.8L479.4,257.5L481.1,257.1L483,257.2L484.4,257.3L485.7,255.5L487.2,253.8L488.4,252.2L489,253.1L489.5,255.2L488.4,255.2L488.3,256.9L488.8,257.2L487.8,257.8L487.9,258.8L487.3,259.9L487.4,260.9L487,261.5L480.1,260.2L479,257.6Z"><title>United Arab Emirates</title></path>
<path fill="#c7e9b4" d="M487.4,260.9L487.3,259.9L487.9,258.8L487.8,257.8L488.8,257.2L488.3,256.9L488.4,255.2L489.5,255.2L490.7,257L492,257.9L493.7,258.2L495.1,258.7L496.3,260.2L497,261.1L497.8,261.4L497.9,262L497.2,263.6L496.9,264.3L496,265.1L495.3,266.9L494.3,266.8L493.9,267.4L493.6,268.7L494,270.4L493.8,270.8L492.8,270.8L491.5,271.7L491.3,273L490.9,273.5L489.5,273.5L488.6,274.2L488.7,275.2L487.7,276L486.4,275.7L484.9,276.6L483.9,276.8L483,274.9L480.9,270.6L487.5,268L488.6,262.8ZM489,253.1L488.4,252.2L489,251.3L489.3,251.6L489.2,252.6Z"><title>Oman</title></path>
<path fill="#081d58" d="M483.9,276.8L482.3,277.5L481.9,278.6L481.9,279.5L479.7,280.6L476.2,281.8L474.2,283.7L473.2,283.8L472.5,283.6L471.2,284.7L469.8,285.2L467.9,285.4L467.3,285.5L466.9,286.2L466.3,286.4L465.9,287.1L464.8,287L464.1,287.4L462.5,287.2L461.8,285.7L461.8,284.3L461.4,283.5L460.9,281.6L460.2,280.5L460.6,280.4L460.3,279.2L460.6,278.7L460.4,277.5L461.4,276.7L461.1,275.6L461.6,274.3L462.6,275L463.2,274.8L465.8,274.7L466.2,275L468.5,275.2L469.3,275.1L469.9,276L471,275.5L472.4,272.8L474.5,271.6L480.9,270.6L483,274.9Z"><title>Yemen</title></path>
<path fill="#225ea8" d="M459.4,223.2L457.9,221.1L458.1,220.3L457,217.4L458.3,216.6L458.8,217.6L460.1,218.8L461.6,219.1L462.4,219.1L464.5,217.1L465.3,217L466.1,217.7L465.6,219L467.2,220.4L467.7,220.2L468.7,222.2L470.9,222.7L472.6,224L475.7,224.4L479,223.7L479.1,223.1L480.9,222.7L482.1,221.2L483.5,221.2L484.4,220.8L485.9,221L488.6,222.3L490.4,222.6L493.4,224.9L495,225L495.6,227.2L495.4,230.4L495.2,232.3L496.2,232.7L495.6,234.1L496.7,236.2L497.1,237.9L498.9,238.3L499.4,240L497.8,242.4L499.1,243.8L500.2,245.3L502.5,246.5L502.9,248.8L504,249.2L504.4,250.4L501.4,251.7L500.9,254.8L496.6,254L494.1,253.4L491.5,253L490.2,249.8L489,249.4L487.4,249.9L485.3,251.1L482.4,250.2L479.9,248.2L477.7,247.5L475.9,245L473.8,241.5L472.7,242L471.2,241.1L470.5,242.1L469.1,240.8L468.9,239.3L468.2,239.4L468.3,237.5L466.8,235.5L464,234L462.1,231.6L462.3,229.5L463.2,228.6L462.8,227.1L461.3,226.3Z"><title>Iran</title></path>
<path fill="#225ea8" d="M479.1,223.1L480.9,222.7L482.1,221.2L483.5,221.2L484.4,220.8L485.9,221L488.6,222.3L490.4,222.6L493.4,224.9L495,225L495.6,227.2L498.1,228.2L499.6,227.8L499.8,226.6L501.4,226.2L502.5,225.5L502.4,223.4L504.1,222.9L504.2,222L505.4,222.7L506.1,222.7L505.8,221.1L502.6,220L500.1,218.8L498.4,217.5L495.4,215.7L493.7,213.1L492.9,212.6L490.6,212.7L489.7,212.2L488.9,210.1L485.7,208.8L484.3,210.3L482.8,211.1L483.5,212.5L481.1,212.5L480,212.6L478.1,210.6L476.5,209.9L474.2,210.4L473.5,211.3L474.3,211L474.5,212.9L477,214.2L478.7,213.4L476.4,215.9L476.2,217.7L478,218.6L478.3,221.3Z"><title>Turkmenistan</title></path>
<path fill="#225ea8" d="M481.1,212.5L478.5,203L483.4,201.5L483.9,201.7L487.6,203.5L489.6,204.5L492.2,206.8L494.6,206.4L498.1,206.2L501.1,208.1L501.8,210.7L502.8,210.7L503.8,212.8L506.6,212.9L507.5,214.2L508.3,214.1L508.7,212.3L510.9,210.5L511.9,210L512.6,210.3L511.4,211.9L513.3,212.9L514.6,212.3L517.5,213.6L515.3,215.5L513.7,215.3L512.8,215.3L512.3,214.6L512.4,213.4L509.7,214L509.5,215.6L508.9,217.1L507.1,217L506.9,218.1L508.6,218.7L509.6,220.7L509,223.3L507.3,222.7L506.1,222.7L505.8,221.1L502.6,220L500.1,218.8L498.4,217.5L495.4,215.7L493.7,213.1L492.9,212.6L490.6,212.7L489.7,212.2L488.9,210.1L485.7,208.8L484.3,210.3L482.8,211.1L483.5,212.5Z"><title>Uzbekistan</title></path>
<path fill="#225ea8" d="M513.7,215.3L513.1,216L510.7,215.6L510.9,217.1L513.2,216.9L516,217.7L520,217.4L521.2,219.7L521.8,219.5L523.3,220.1L523.5,221.1L524.2,222.6L522,222.6L520.5,222.4L519.5,223.5L518.6,223.8L518,224.3L516.9,223.5L516.5,221.3L515.8,221.2L515.8,220.4L514.5,219.8L513.9,220.7L513.9,221.7L513.7,222.1L512.4,222.1L512,223.3L511.1,222.8L509.8,223.6L509,223.3L509.6,220.7L508.6,218.7L506.9,218.1L507.1,217L508.9,217.1L509.5,215.6L509.7,214L512.4,213.4L512.3,214.6L512.8,215.3Z"><title>Tajikistan</title></path>
<path fill="#41b6c4" d="M511.9,210L512,208.9L513.3,208.5L517,209.4L516.8,207.9L517.8,207.3L521.2,208.4L521.8,208.1L525.3,208.2L528.5,208.5L529.9,209.4L531.4,209.8L531.3,210.4L528.4,211.8L528.1,212.8L525.4,213.1L525.2,214.8L522.8,214.4L521.5,214.9L519.9,216.2L520.4,216.8L520,217.4L516,217.7L513.2,216.9L510.9,217.1L510.7,215.6L513.1,216L513.7,215.3L515.3,215.5L517.5,213.6L514.6,212.3L513.3,212.9L511.4,211.9L512.6,210.3Z"><title>Kyrgyzstan</title></path>
<path fill="#41b6c4" d="M511.9,210L510.9,210.5L508.7,212.3L508.3,214.1L507.5,214.2L506.6,212.9L503.8,212.8L502.8,210.7L501.8,210.7L501.1,208.1L498.1,206.2L494.6,206.4L492.2,206.8L489.6,204.5L487.6,203.5L483.9,201.7L483.4,201.5L478.5,203L481.1,212.5L480,212.6L478.1,210.6L476.5,209.9L474.2,210.4L473.5,211.3L473.2,210.6L473.5,209.6L472.9,208.7L470.2,207.8L468.7,205.5L467.4,204.8L467.2,204L469.2,204.2L468.8,202.3L470.5,201.9L472.4,202.3L472.1,199.8L471.3,198.2L469.3,198.4L467.4,197.7L465.3,198.9L463.6,199.4L462.4,199L462.3,197.7L460.6,196L459.1,196L457,194.3L457.7,192.4L456.9,191.9L457.8,189.1L460.3,190.6L460,188.7L463.3,186L466.4,185.9L471.3,187.7L474,188.7L475.7,187.6L478.9,187.6L481.8,188.9L482.2,188.1L485,188.2L485.1,187L481.3,185.3L482.7,184.1L482.1,183.4L483.7,182.8L481.7,181.1L482.2,180.2L489.1,179.4L489.8,178.8L494.2,177.8L495.5,176.8L499.2,177.3L501,179.9L502.7,179.3L505.6,180.1L506.1,181.5L507.9,181.4L511.6,179L511.3,179.8L514.7,181.7L522.1,188.1L522.6,186.7L526,188.2L528.5,187.6L529.8,188L531.5,189.5L533.1,189.9L534.5,191L536.9,190.7L538.7,192.2L538,193.9L536.4,194.1L537.4,196.7L536.8,197.9L532.4,197L532.8,201.6L532,202.2L528.3,203.2L531.8,207.7L530.6,208.3L531.4,209.8L529.9,209.4L528.5,208.5L525.3,208.2L521.8,208.1L521.2,208.4L517.8,207.3L516.8,207.9L517,209.4L513.3,208.5L512,208.9Z"><title>Kazakhstan</title></path>
<path fill="#081d58" d="M495.6,227.2L498.1,228.2L499.6,227.8L499.8,226.6L501.4,226.2L502.5,225.5L502.4,223.4L504.1,222.9L504.2,222L505.4,222.7L506.1,222.7L507.3,222.7L509,223.3L509.8,223.6L511.1,222.8L512,223.3L512.4,222.1L513.7,222.1L513.9,221.7L513.9,220.7L514.5,219.8L515.8,220.4L515.8,221.2L516.5,221.3L516.9,223.5L518,224.3L518.6,223.8L519.5,223.5L520.5,222.4L522,222.6L524.2,222.6L524.8,223.3L523.7,223.6L522.7,224.1L520.3,224.4L518.1,224.9L517.1,226.1L517.9,227.2L518.5,228.5L517.7,229.6L518,230.6L517.6,231.5L515.5,231.4L516.8,233.2L515.5,233.8L514.9,235.4L515.4,237L514.7,237.7L513.8,237.5L512.2,237.8L512.1,238.5L510.5,238.5L509.5,240L509.9,242.2L507.2,243.3L505.6,243.1L505.2,243.6L503.8,243.3L501.7,243.7L497.8,242.4L499.4,240L498.9,238.3L497.1,237.9L496.7,236.2L495.6,234.1L496.2,232.7L495.2,232.3L495.4,230.4Z"><title>Afghanistan</title></path>
<path fill="#172976" d="M524.8,223.3L526.8,224.5L527.9,226.5L531.8,227.6L530.3,229.8L527.9,230.2L524.5,229.5L523.7,230.7L525,232.9L526.2,234.7L528.2,236L526.7,237.5L527.1,239.4L525.5,242L524.6,244.6L522.8,247.4L520.2,247.2L518.2,249.9L519.8,251.1L520.4,253.1L521.8,254.4L522.5,256.6L517.6,256.6L516.3,258.4L514.6,257.7L513.7,255.9L511.7,253.8L507.6,254.3L504,254.4L500.9,254.8L501.4,251.7L504.4,250.4L504,249.2L502.9,248.8L502.5,246.5L500.2,245.3L499.1,243.8L497.8,242.4L501.7,243.7L503.8,243.3L505.2,243.6L505.6,243.1L507.2,243.3L509.9,242.2L509.5,240L510.5,238.5L512.1,238.5L512.2,237.8L513.8,237.5L514.7,237.7L515.4,237L514.9,235.4L515.5,233.8L516.8,233.2L515.5,231.4L517.6,231.5L518,230.6L517.7,229.6L518.5,228.5L517.9,227.2L517.1,226.1L518.1,224.9L520.3,224.4L522.7,224.1L523.7,223.6Z"><title>Pakistan</title></path>
<path fill="#172976" d="M531.8,227.6L534.9,230.7L535.2,232.8L536.5,234.1L536.7,235.5L535.1,235.1L536.3,238L538.9,239.6L542.4,241.5L541.2,242.6L540.9,245.1L543.2,246L545.6,247.3L548.7,248.8L551.9,249.2L553.4,250.5L555.2,250.7L558,251.3L559.8,251.3L559.9,250.2L559.3,248.6L559.2,247.5L560.5,246.9L561.1,249L561.2,249.5L563.4,250.5L564.8,250.1L566.7,250.2L568.5,250.2L568.3,248.6L567.2,247.7L569,247.4L570.5,245.5L572.7,243.8L574.7,244.5L576,243.4L577.5,245L577,246.1L579.5,246.5L579.9,247.5L579.2,247.9L579.7,249.5L578.1,249.1L575.5,250.9L575.9,252.4L575.1,254.6L575.2,255.8L574.6,258L572.7,257.4L573.1,260.1L572.7,261L573.1,262.1L572,262.7L570.2,258.5L569.6,258.6L569.5,260.2L568.1,258.9L568.5,257.4L569.5,257.2L570.2,255L568.8,254.6L566.7,254.6L564.5,254.3L564,252.4L562.9,252.3L560.9,251.2L560.5,253L562.3,254.3L561.1,255.3L560.7,256.3L562.2,257L562.1,258.5L563.2,260.5L563.8,262.6L563.6,263.6L562.1,263.6L559.4,264.1L559.8,266.1L558.8,267.6L555.7,269.4L553.6,272.5L552.1,274.1L550,275.8L550.1,277L549,277.6L547.1,278.6L546,278.7L545.6,280.7L546.3,284.1L546.7,286.3L545.9,288.7L546.2,293.2L545,293.3L544.1,295.3L544.8,296.1L542.7,296.9L542.1,298.7L541.2,299.4L538.9,297L537.6,293.3L536.6,290.7L535.7,289.5L534.3,287L533.5,283.7L532.9,282.1L530.5,278.5L529.1,273.4L528.1,270.1L527.7,266.9L527,264.5L523.9,266L522.3,265.7L519,262.6L520,261.6L519.2,260.6L516.3,258.4L517.6,256.6L522.5,256.6L521.8,254.4L520.4,253.1L519.8,251.1L518.2,249.9L520.2,247.2L522.8,247.4L524.6,244.6L525.5,242L527.1,239.4L526.7,237.5L528.2,236L526.2,234.7L525,232.9L523.7,230.7L524.5,229.5L527.9,230.2L530.3,229.8Z"><title>India</title></path>
<path fill="#225ea8" d="M559.2,247.5L559.3,248.6L559.9,250.2L559.8,251.3L558,251.3L555.2,250.7L553.4,250.5L551.9,249.2L548.7,248.8L545.6,247.3L543.2,246L540.9,245.1L541.2,242.6L542.4,241.5L543.2,240.8L545.1,241.6L547.7,243.3L549,243.7L550,245L551.9,245.5L553.9,246.6L556.6,247.2Z"><title>Nepal</title></path>
<path fill="#081d58" d="M567.2,247.7L568.3,248.6L568.5,250.2L566.7,250.2L564.8,250.1L563.4,250.5L561.2,249.5L561.1,249L562.1,247L563.2,246.4L564.9,247L566.1,247Z"><title>Bhutan</title></path>
<path fill="#225ea8" d="M572,262.7L572.3,264.6L571.4,264.2L571.9,266.3L571,264.9L570.7,263.6L570.1,262.3L568.9,260.8L566.9,260.7L567.2,261.8L566.7,263.2L565.7,262.7L565.4,263.2L564.7,262.9L563.8,262.6L563.2,260.5L562.1,258.5L562.2,257L560.7,256.3L561.1,255.3L562.3,254.3L560.5,253L560.9,251.2L562.9,252.3L564,252.4L564.5,254.3L566.7,254.6L568.8,254.6L570.2,255L569.5,257.2L568.5,257.4L568.1,258.9L569.5,260.2L569.6,258.6L570.2,258.5Z"><title>Bangladesh</title></path>
<path fill="#081d58" d="M551,300.6L550.8,303.3L549.8,304L547.8,304.6L546.7,302.6L546.1,298.8L546.9,294.6L548.6,296L549.7,297.9Z"><title>Sri Lanka</title></path>
<path fill="#253494" d="M588.3,267.5L587.1,268.7L585.5,268.8L584.9,271.6L584,272.1L585.4,274.4L587.1,276.3L588.3,278L587.8,280.3L587,280.7L587.7,282.1L589.5,284.1L589.9,285.6L590,286.8L591.1,289.2L590,291.6L589.1,294.3L588.8,292.3L589.3,290.4L588.4,288.8L588.3,286L587.2,284.6L586.2,281.5L585.4,278.2L584.1,276L582.8,277.3L580.4,279.2L579.1,279L577.6,278.3L578,275.1L577.2,272.7L575,269.7L575.1,268.7L573.8,268.4L571.9,266.3L571.4,264.2L572.3,264.6L572,262.7L573.1,262.1L572.7,261L573.1,260.1L572.7,257.4L574.6,258L575.2,255.8L575.1,254.6L575.9,252.4L575.5,250.9L578.1,249.1L579.7,249.5L579.2,247.9L579.9,247.5L579.5,246.5L580.7,246.3L581.8,247.8L582.9,248.4L583.5,250.4L583.8,252.6L582.1,254.8L582.4,257.8L584.7,257.4L585.6,259.8L587.1,260.3L586.8,262.5L588.7,263.5L589.7,263.9L591.3,263.2L591.5,264.3L589.8,266L589.5,266.9Z"><title>Myanmar</title></path>
<path fill="#41b6c4" d="M597.9,288.4L595.7,287.2L593.7,287.2L593.9,285.2L591.9,285.2L592,288.1L591.1,291.9L590.5,294.2L590.8,296.1L592.3,296.2L593.4,298.5L593.9,300.8L595.3,302.3L596.7,302.6L597.9,304L597.2,305L595.7,305.4L595.5,304L593.6,302.9L593.2,303.3L592.2,302.3L591.8,301L590.5,299.6L589.3,298.3L589,299.9L588.5,298.4L588.6,296.8L589.1,294.3L590,291.6L591.1,289.2L590,286.8L589.9,285.6L589.5,284.1L587.7,282.1L587,280.7L587.8,280.3L588.3,278L587.1,276.3L585.4,274.4L584,272.1L584.9,271.6L585.5,268.8L587.1,268.7L588.3,267.5L589.5,266.9L590.6,267.7L591,269.3L592.5,269.4L592.4,272.2L592.7,274.5L594.9,272.9L595.6,273.4L597,273.3L597.3,272.4L599,272.6L601.1,274.7L601.6,277.3L603.7,279.6L603.9,281.8L603.3,283L601.1,282.6L598.2,283.1L597,285.3Z"><title>Thailand</title></path>
<path fill="#1d91c0" d="M603.3,283L603.9,281.8L603.7,279.6L601.6,277.3L601.1,274.7L599,272.6L597.3,272.4L597,273.3L595.6,273.4L594.9,272.9L592.7,274.5L592.4,272.2L592.5,269.4L591,269.3L590.6,267.7L589.5,266.9L589.8,266L591.5,264.3L591.8,264.9L593,265L592.2,262L593.3,261.6L594.9,263.6L596.3,266L599.1,266L600.3,268.3L599,269L598.5,269.9L601.4,271.5L603.8,274.6L605.6,276.9L607.5,278.7L608.4,280.5L608.3,283.1L606.2,282.2L605.3,284Z"><title>Laos</title></path>
<path fill="#7fcdbb" d="M597.9,288.4L597,285.3L598.2,283.1L601.1,282.6L603.3,283L605.3,284L606.2,282.2L608.3,283.1L609,284.9L609.1,288L605.4,290L606.6,291.6L604.2,291.8L602.3,292.8L600.3,292.5L599.3,291.1Z"><title>Cambodia</title></path>
<path fill="#1d91c0" d="M602.3,292.8L604.2,291.8L606.6,291.6L605.4,290L609.1,288L609,284.9L608.3,283.1L608.4,280.5L607.5,278.7L605.6,276.9L603.8,274.6L601.4,271.5L598.5,269.9L599,269L600.3,268.3L599.1,266L596.3,266L594.9,263.6L593.3,261.6L594.4,260.9L596.2,261L598.3,260.7L600,259.3L601.3,260.2L603.4,260.7L603.3,262.2L604.6,263.3L607,264L604.3,266.2L602.8,268.7L602.6,270.5L604.7,273.2L607.4,276.6L609.7,278.2L611.3,280.3L613,285.2L613.1,289.8L611.4,291.5L608.9,293.2L607.2,295.3L604.5,297.8L603.6,296.1L604.1,294.3Z"><title>Vietnam</title></path>
<path fill="#1d91c0" d="M595.5,304L595.7,305.4L597.2,305L597.9,304L598.5,304.2L599.9,305.8L601,307.5L601.2,309.3L600.9,310.5L601.2,311.4L601.4,312.9L602.2,313.6L603.2,315.9L603.2,316.8L601.6,317L599.3,315.1L596.6,313L596.2,311.7L594.9,309.9L594.5,307.8L593.6,306.3L593.8,304.4L593.2,303.3L593.6,302.9ZM636.1,308.5L634.4,309.4L632.4,309L629.8,309L629.1,311.9L628.2,312.8L627.1,316.5L625.3,317L623.1,316.3L622,316.5L620.6,317.9L619.2,317.6L617.7,318.2L616.1,316.7L615.7,315L617.4,315.9L619.1,315.4L619.5,313.2L620.5,312.7L623.3,312.1L624.8,310.1L625.9,308.4L627,309.7L627.5,308.9L628.6,308.9L628.6,307.3L628.7,306L630.3,304.2L631.4,302.1L632.3,302.1L633.6,303.4L633.7,304.6L635.3,305.3L637.3,306.1L637.1,307.1L635.6,307.2Z"><title>Malaysia</title></path>
<path fill="#1d91c0" d="M625.9,308.4L626.8,307.4L628.7,306L628.6,307.3L628.6,308.9L627.5,308.9L627,309.7Z"><title>Brunei</title></path>
<path fill="#172976" d="M603.5,323L603.9,324.8L604.6,326.3L606.3,326.5L607.4,328.2L606.7,331.4L606.5,335.5L603.9,335.5L602.1,333.4L599.2,331.2L598.3,329.6L596.6,327.5L595.5,325.5L593.8,321.9L591.8,319.7L591.1,317.5L590.2,315.5L588.1,313.8L586.8,311.6L585,310.1L582.5,307.2L582.3,305.9L583.8,306L587.3,306.5L589.5,309.1L591.3,310.8L592.6,311.9L594.9,314.7L597.2,314.8L599.2,316.5L600.6,318.7L602.3,319.9L601.4,322.1L602.7,323ZM612.8,337.9L617.2,338.2L617.7,337.1L621.9,338.3L622.7,340L626.1,340.5L628.8,342L626.1,343L623.6,342L621.6,342.1L619.2,341.9L617.1,341.4L614.5,340.4L612.8,340.1L611.8,340.5L607.7,339.4L607.4,338.3L605.3,338.1L607,335.6L609.8,335.7L611.6,336.8L612.5,337ZM634.4,309.4L633.2,311.8L635,314.2L634.6,315.4L637.2,317.9L634.5,318.2L633.8,319.9L633.8,322.3L631.6,324.1L631.5,326.7L630.4,330.7L630.1,329.7L627.5,330.9L626.6,329.3L625,329.2L623.9,328.3L621.1,329.3L620.3,328L618.8,328.2L616.9,327.8L616.6,324.3L615.5,323.6L614.4,321.4L614.1,319.1L614.3,316.7L615.7,315L616.1,316.7L617.7,318.2L619.2,317.6L620.6,317.9L622,316.5L623.1,316.3L625.3,317L627.1,316.5L628.2,312.8L629.1,311.9L629.8,309L632.4,309ZM651.6,316.5L649.8,319.1L648.1,319.6L645.8,319.1L642,319.2L640,319.6L639.7,321.6L641.7,323.9L643,322.7L647.3,321.8L647,323L646,322.6L645,324.2L643,325.2L645,328.5L644.6,329.4L646.5,332.4L646.4,334.1L645.2,334.9L644.3,334L645.5,331.8L643.2,332.9L642.7,332.1L643,331.1L641.4,329.6L641.7,327.1L640.1,327.8L640.2,330.9L640.1,334.6L638.6,335L637.7,334.2L638.5,331.8L638.2,329.3L637.2,329.3L636.6,327.5L637.6,325.8L638,323.7L639.2,319.8L639.7,318.7L641.6,316.8L643.4,317.6L646.3,317.9L648.9,317.8L651.2,315.9ZM687.8,327L686.7,344L684.9,341.9L682.7,341.3L682,342.1L679.1,342.1L680.3,340L681.8,339.3L681.4,336.5L680.4,334.3L676.1,332.1L674.2,331.8L670.8,329.4L670.1,330.7L669.2,330.9L668.7,330L668.7,328.8L667,327.6L669.6,326.6L671.2,326.7L671,326L667.6,326L666.8,324.4L664.7,323.9L663.8,322.7L666.9,322L668.1,321.2L671.8,322.2L672.1,323.2L672.6,327.4L675,329L677,326.2L679.7,324.6L681.7,324.6L683.7,325.5L685.4,326.5ZM646.3,347.2L648.5,346.7L649.9,344.7L650,343.4L647.9,344.7L646.5,346ZM629,341.9L631.1,341.9L633.9,341.3L636.4,341.9L634.7,343.2L631.9,343.8L629.4,343.4ZM638.4,342.4L641.6,342.4L645.4,341.3L645,342.8L641.3,343.6L638.6,343.2ZM636.1,344.9L639.1,345.4L640.1,346.6L638,347.1ZM657,314.5L657.9,316L659.6,317.3L658,319.4L658.7,322.3L657.3,321L656.6,317.6ZM657.8,327.8L661.1,327.5L664.3,328.3L663.5,330.4L660.1,329.1L658,329.1ZM653.2,328.5L655.5,328.5L655.9,329.9L653.6,330.1ZM671.5,335.3L673,334.6L673,336.9L671.6,337.9ZM648.8,341.6L650.4,341.6L649.2,342.4Z"><title>Indonesia</title></path>
<path fill="#1d91c0" d="M650,343.4L652.2,342.2L655.4,342.1L654.5,343L652.1,343.9L649.9,344.7Z"><title>East Timor</title></path>
<path fill="#081d58" d="M687.8,327L691.8,328.8L695.9,330.3L697.4,331.6L698.7,332.9L698.9,334.5L702.7,336.1L703.1,337.4L701,337.7L701.3,339.5L703.2,341.2L704.5,343.9L705.8,343.9L705.6,345L707.3,345.5L706.6,346L708.9,347L708.5,347.8L707,348L706.5,347.3L704.6,347L702.3,346.6L700.7,345L699.6,343.5L698.6,341.3L695.7,340.1L693.7,340.9L692.2,341.7L692.3,343.6L690.4,344.5L689.2,344.1L686.8,344L686.7,344ZM704.2,335.1L706.5,334.8L708.6,334.6L710.5,333.2L712,331.2L713.7,331.2L713.8,333L711.6,334.8L709.2,336.4L706.9,336.6L704.4,335.6ZM710.2,327L712.7,328L714.4,329.9L715.5,331.9L714.7,332.5L713.5,330.6L711.5,328.5L710.1,327.5ZM719,333.5L720.7,335.6L721.5,337.9L720.1,337.4L718.9,335.3Z"><title>Papua New Guinea</title></path>
<path fill="#172976" d="M638.3,271.9L639.9,272.7L640.5,272L640.8,272.7L640.6,273.7L641.7,275.6L641.4,277.8L640.2,278.6L640.2,280.7L641,282.8L642.3,283.1L643.2,282.8L646.3,284.2L646.3,285.7L647.1,286.3L647,287.5L645,286.2L644,284.8L643.5,285.8L641.9,284.2L639.9,284.6L638.7,284L638.6,283L639.2,282.3L638.5,281.7L638.3,282.6L637,281.1L636.5,280L636,277.5L637.1,278.4L636.6,274.3L637,271.9ZM653.3,298.3L653.7,300L653.9,301.4L653.3,303.8L652.3,301.2L651.3,302.5L652.1,304.4L651.5,305.6L648.7,304.1L648,302.2L648.6,301L647.1,299.8L646.4,300.8L645.3,300.7L643.7,302.2L643.3,301.4L644,299.2L645.4,298.5L646.6,297.5L647.5,298.7L649.2,298L649.5,296.8L651.1,296.7L650.8,294.7L652.7,296L653.1,297.3ZM647.5,287.6L649.8,287.6L651.1,291L650.2,293.3L649.3,293.8L649.1,291.8L648,290.5ZM642.4,289.4L645,289.9L645.2,291.5L644.2,292.8L642.8,292.8L642.3,290.7ZM643.9,294.9L645.6,296.5L646.1,294.1L646.1,291.8L645,291.8ZM646.2,295.4L647.4,293.6L647.2,291L646.7,292.8ZM636.8,290.5L637.5,292.8L635,295.9L632.2,298.3L633.6,295.9L635.7,293.1ZM638.1,285.2L640.1,285.2L641.1,287.3L640.5,288.4L639.4,287.1ZM647.1,295.2L648.7,294.9L648.9,294.1L647.5,293.8Z"><title>Philippines</title></path>
<path fill="#41b6c4" d="M637,209.7L636.2,208.4L637.2,208.3L635.6,205.3L633.7,203.1L634.9,202.2L637.7,202.6L637.4,200.1L636.3,197.3L636.4,196.4L635.9,194.1L633.1,194.9L632,195.8L628.9,195.8L626.5,193.5L622.9,191.7L618.8,190.9L616.3,188.4L614.5,186.8L612.9,185.8L609.8,183.2L607.3,182.3L603.8,181.6L601.3,181.7L599.2,182.1L598.5,183.3L600,183.9L601.1,185.3L600.6,186.1L600.6,188.8L601.4,189.9L599.6,191.5L596.6,190.5L596.9,195L598.1,196L599,195.7L601.3,196.1L602.3,195.1L604.4,195.9L607.3,197.7L607.6,198.7L605.8,198.3L603.1,198.7L602.1,199.4L601.5,201.1L598.9,202.1L597.6,203.5L595.2,203L593.9,202.7L593.7,204.4L594.9,205.4L595.7,206.2L594.7,207.1L593.9,208.5L591.9,209.4L588.8,209.5L585.9,210.4L584.1,211.7L582.8,210.9L580.2,210.9L576.4,209.4L574.2,209L571.6,209.4L567,208.8L564.7,208.8L562.8,207.3L560.8,204.9L559.3,204.6L556.1,203L553.2,202.7L550.5,202.2L549.3,201.1L548.8,198.1L546.4,196.1L543.1,195.1L540.7,193.8L539.4,192L538.7,192.2L538,193.9L536.4,194.1L537.4,196.7L536.8,197.9L532.4,197L532.8,201.6L532,202.2L528.3,203.2L531.8,207.7L530.6,208.3L531.4,209.8L531.3,210.4L528.4,211.8L528.1,212.8L525.4,213.1L525.2,214.8L522.8,214.4L521.5,214.9L519.9,216.2L520.4,216.8L520,217.4L521.2,219.7L521.8,219.5L523.3,220.1L523.5,221.1L524.2,222.6L524.8,223.3L526.8,224.5L527.9,226.5L531.8,227.6L534.9,230.7L535.2,232.8L536.5,234.1L536.7,235.5L535.1,235.1L536.3,238L538.9,239.6L542.4,241.5L543.2,240.8L545.1,241.6L547.7,243.3L549,243.7L550,245L551.9,245.5L553.9,246.6L556.6,247.2L559.2,247.5L560.5,246.9L561.1,249L562.1,247L563.2,246.4L564.9,247L566.1,247L567.2,247.7L569,247.4L570.5,245.5L572.7,243.8L574.7,244.5L576,243.4L577.5,245L577,246.1L579.5,246.5L580.7,246.3L581.8,247.8L582.9,248.4L583.5,250.4L583.8,252.6L582.1,254.8L582.4,257.8L584.7,257.4L585.6,259.8L587.1,260.3L586.8,262.5L588.7,263.5L589.7,263.9L591.3,263.2L591.5,264.3L591.8,264.9L593,265L592.2,262L593.3,261.6L594.4,260.9L596.2,261L598.3,260.7L600,259.3L601.3,260.2L603.4,260.7L603.3,262.2L604.6,263.3L607,264L607.9,263.5L611.1,264.4L610.8,265.4L611.7,267.3L612.9,267.1L613.2,264.4L615.5,264L618.4,262.7L619.5,261.4L620.4,262.2L621.6,261L624.1,260.8L626.8,258.6L629.4,256.1L630.7,253L631.7,249.6L632.5,246.8L633.7,246.5L633.6,244.5L633.3,242.4L631.7,241.6L630.7,240.1L631.9,239.4L631.2,237.5L629,235.5L626.8,233.1L624.9,230.5L622,229.1L622.3,227.3L623.9,226L624.3,224.6L627,223.9L626.1,222.5L624.7,222.4L622.3,221.4L620.7,223.3L618.7,222.5L618.1,221.3L616.1,220.9L614.2,219.1L614.7,217.9L616.8,217.8L617.3,216.1L618.8,214.3L620.1,213.4L621.9,214.8L621.2,216.5L622.1,217.5L621.5,218.7L623.5,218L624.5,216.8L627.1,216.1L627.9,214.4L629.5,213L629.9,211.2L631.4,212L633.2,212.1L632.1,210.7L634.7,209.6L634.7,208.1ZM613.3,271.5L611.6,272.7L609.6,271.9L609.2,269.7L610.1,268.5L612.5,267.8L613.8,267.8L614.4,268.8L613.6,269.9Z"><title>China</title></path>
<path fill="#7fcdbb" d="M636.5,256.6L636,260.7L635.4,262.9L633.8,260.7L633.2,258.7L633.9,256.2L635.3,254.2L636.5,255Z"><title>Taiwan</title></path>
<path fill="#225ea8" d="M539.4,192L541.3,191.6L544,189.4L546.4,188.2L548.6,189L550.7,189L552.7,190.2L554.7,190.3L557.9,190.9L558.9,189.2L557.3,187.7L557.8,185.1L560.6,186.1L562.6,186.4L565.3,187.1L566.8,189L570.3,190L571.9,189.5L574.2,189.2L576.4,189.6L579.1,190.8L581.1,192.1L582.9,192L585.7,192.4L587.2,191.8L589.6,191.4L591.4,189.6L592.7,189.9L594.3,190.7L596.6,190.5L596.9,195L598.1,196L599,195.7L601.3,196.1L602.3,195.1L604.4,195.9L607.3,197.7L607.6,198.7L605.8,198.3L603.1,198.7L602.1,199.4L601.5,201.1L598.9,202.1L597.6,203.5L595.2,203L593.9,202.7L593.7,204.4L594.9,205.4L595.7,206.2L594.7,207.1L593.9,208.5L591.9,209.4L588.8,209.5L585.9,210.4L584.1,211.7L582.8,210.9L580.2,210.9L576.4,209.4L574.2,209L571.6,209.4L567,208.8L564.7,208.8L562.8,207.3L560.8,204.9L559.3,204.6L556.1,203L553.2,202.7L550.5,202.2L549.3,201.1L548.8,198.1L546.4,196.1L543.1,195.1L540.7,193.8Z"><title>Mongolia</title></path>
<path fill="#7fcdbb" d="M637.5,219.5L640.8,222.5L642.2,224.2L643.6,227.2L643.4,228.7L641.7,229.2L640.4,230.2L638.5,230.5L637.7,229.1L637.2,227.1L635,224.4L636.4,224L633.9,221.7L634,221.5L635,221.6L635.2,220.4L636.7,220.3Z"><title>South Korea</title></path>
<path fill="#c7e9b4" d="M691.1,356.1L691.6,358.2L693.2,357.2L693.8,358.3L694.7,359.3L694.3,360.5L694.4,362.7L694.5,364L695,364.3L695.1,366.5L694.6,367.9L695,369.7L697.1,371L698.5,372.3L699.7,373.4L699.3,374L700.2,375.7L700.5,378.5L701.5,377.9L702.1,379.1L702.8,378.6L702.5,381.4L703.7,383L704.4,384L705.6,386.1L705.6,388.2L705.1,389.7L704.4,391.3L704.7,393.5L703.7,395.9L702.9,397.1L701.3,399.4L700.7,400.9L699.4,402.8L697.4,405.1L695.2,406.4L693.4,408.4L692,409.7L690.2,412L688.7,413.3L687.2,415.2L685.9,417L685.6,417.9L683.8,418.7L681.3,418.8L678.8,419.9L677.2,420.9L675.3,422L674.2,420.9L673.1,420.4L674.2,419.1L672.8,419.6L669.8,421.4L668.4,420.7L667.4,420.3L666.3,420.1L664.6,419.4L664.1,417.8L664.7,415.8L665.3,413.4L664.3,413.4L662.4,413.1L663.7,411.9L664,409.9L662.1,411.7L660,412.2L661.8,410.8L662.8,409.3L664.2,408L664.9,406L662.1,408.3L660.4,409.1L658.6,411.2L657.4,410.2L658.1,408.8L657.5,406.9L656.8,405.9L657.4,405.3L655.3,403.7L653.8,403.6L652.1,402.4L648.1,402.6L644.9,403.6L642.1,404.4L640,404.3L637.2,405.6L635.1,406.2L634.1,407.6L632.9,408.6L631,408.7L629.5,408.9L627.8,408.4L626.1,408.7L624.6,408.9L622.7,410.2L622.1,410.1L620.8,410.9L619.4,411.7L617.8,411.6L616.4,411.6L614.7,409.9L613.7,409.4L614.3,407.9L615.6,407.6L616.1,407L616.4,406L617.3,404.2L617.6,402.7L617.3,400L617.4,398.6L618,397.1L617.6,395.4L617.8,394.6L617,393.6L617.3,391.5L616.6,389.4L616.5,388.4L617.2,389.5L617,387L618,387.8L618.4,388.8L618.7,387.5L618,385.4L618,384.6L617.6,383.8L618.2,382.3L618.8,381.7L619.3,380.4L619.4,378.9L620.6,377L620.5,379L621.7,377.2L623.7,376.3L625,375.2L626.9,374.2L628,374L628.5,374.3L630.5,373.3L631.9,373.1L632.4,372.5L633,372.3L634.2,372.3L636.8,371.5L638.2,370.4L639,369L640.6,367.7L640.9,366.6L641.2,365.2L643.1,363L643.7,365.3L644.8,364.7L644.1,363.5L645.1,362.2L646,362.8L646.6,360.8L648,359.5L648.7,358.5L649.9,358.1L650.1,357.3L651.1,357.6L651.2,357L652.2,356.6L653.4,356.3L654.9,357.5L655.9,359L657.4,359L658.8,359.3L658.5,357.8L659.9,355.7L661,355.1L660.7,354.4L661.9,352.9L663.4,352L664.6,352.3L666.6,351.8L666.7,350.5L665.1,349.6L666.4,349.2L667.8,349.9L668.9,351L670.7,351.6L671.4,351.4L672.8,352.2L674.2,351.4L675,351.6L675.6,351.1L676.5,352.4L675.7,353.8L674.7,354.9L673.9,355L674,356L673.1,357.3L672.1,358.6L672.2,359.3L673.8,360.8L675.4,361.6L676.4,362.5L677.7,364.1L678.4,364.1L679.5,364.7L679.6,365.5L681.7,366.4L683.3,365.5L684,364.1L684.7,363L685.3,361.5L686.3,359.4L686.2,358.2L686.5,357.4L686.5,355.9L687,354L687.6,353.4L687.3,352.6L688.1,351.2L688.7,349.8L688.8,349L689.8,348L690.3,349.3L690.2,350.9L690.8,351.3L690.7,352.4L691.4,353.7L691.3,355.2ZM670.6,426.6L672,427.5L673.4,427.1L675.4,426.6L676.6,426.8L674.7,429.9L673.4,430.8L671.8,432.8L671.5,432.1L668.8,433.9L668.5,433.8L667.3,433.7L667.5,431.5L668.3,429.8L668.6,427.5L669.3,426.3Z"><title>Australia</title></path>
<path fill="#41b6c4" d="M738.6,424.7L736.8,426.1L734.4,427.9L731.9,428.9L732.1,428.2L731.5,427.8L734.3,425.7L734.7,424.3L733.1,423.3L733.8,422.3L736,421.4L737.7,419.4L738.8,417.7L739,416L739.3,415.5L739,414.4L738.6,412.1L738.8,410.3L739.7,410.1L740.1,411.5L741.4,412.2L740.6,414.5L740.4,417.3L741.6,415.5L742.1,416.2L741.2,418.2L742.3,419L743.6,419.2L745.5,418.2L746.4,418.6L744.3,420.8L742.6,422.4L741,422.3L739.9,423.1L739.3,424.2ZM716.5,433.7L719.3,432.4L721.6,431L724,429.1L725.4,428.4L726.7,427L729.1,425.8L728.8,426.9L728.5,428L730.7,426.9L730.5,428L729.7,429.1L728,430.3L725.1,432.2L723.2,433.2L723,434.5L721.3,434.5L718.7,435.5L716.8,437.2L713.5,439.8L710.9,440.9L709.3,441.6L707.5,441.6L706.8,440.7L704.8,440.5L705.2,439.6L707.8,437.7L712.5,435.2L714.2,434.7ZM705,442.3L706.4,442.3L705.3,443.2L704.4,443.1Z"><title>New Zealand</title></path>
<path fill="#172976" d="M768.6,365.4L769.2,366.2L768.5,367.6L767,367.9L765.8,367.6L765.9,366.4L767,365.5ZM769.6,363.6L771.2,364L773.1,362.1L771.6,362.9L769.6,364.6Z"><title>Fiji</title></path>
<path fill="#172976" d="M744.1,361.7L745.2,363.2L744.4,363.5L743.8,362.4ZM743.2,361.1L743.1,360.4L743.4,358.4L744.3,359.2L744.3,361.3ZM745.4,365.9L746,366.1L745.6,366.9Z"><title>Vanuatu</title></path>
<path fill="#172976" d="M737.6,375.2L739,376.8L739.9,378L738.9,378.6L737.8,377.9L736.5,376.8L735.4,375.4L734.4,373.5L734.3,372.7L735.2,372.7L736.3,373.6L737.1,374.5Z"><title>New Caledonia</title></path>
<path fill="#172976" d="M734.8,347.5L735.3,348.5L733.7,348.4L733,346.8L734.3,347.5ZM732.1,346L731.2,346L729.8,345.7L729.4,345.4L729.6,344.3L731.1,344.7L731.8,345.3ZM734.1,345.2L733.7,345.7L732.2,343.5L731.9,341.9L732.7,341.9L733.3,344ZM730.3,342L730.3,342.5L728.6,341.4L727.5,340.4L726.7,339.6L727,339.3L728,339.9L729.8,341.1ZM725.1,339.4L724.7,339.5L723.7,338.9L722.9,337.9L723,337.4L724.3,338.5Z"><title>Solomon Islands</title></path>
</g></g>
</svg><svg width="850" height="600" viewBox="0 0 850 600">
<defs><pattern id="h2" width="4" height="4" patternUnits="userSpaceOnUse" patternTransform="rotate(45)"><rect width="4" height="4" fill="#fff"/><line x1="1" y1="0" x2="1" y2="4" stroke="#dedede" stroke-width="1.6"/></pattern></defs>
<rect x="98.5" y="501.5" width="48" height="11" fill="url(#h2)" stroke="#c4c4c4" stroke-width="0.8"/>
<line x1="122.5" y1="498.5" x2="122.5" y2="501.5" stroke="#999" stroke-width="0.8"/>
<g stroke="none">
<rect x="165.8" y="501.5" width="58.6" height="11" fill="#ffffd9"/>
<rect x="224.4" y="501.5" width="58.6" height="11" fill="#edf8b1"/>
<rect x="283" y="501.5" width="58.6" height="11" fill="#c7e9b4"/>
<rect x="341.6" y="501.5" width="58.6" height="11" fill="#7fcdbb"/>
<rect x="400.2" y="501.5" width="58.6" height="11" fill="#41b6c4"/>
<rect x="458.8" y="501.5" width="58.6" height="11" fill="#1d91c0"/>
<rect x="517.4" y="501.5" width="58.6" height="11" fill="#225ea8"/>
<rect x="576" y="501.5" width="58.6" height="11" fill="#253494"/>
<rect x="634.6" y="501.5" width="58.6" height="11" fill="#172976"/>
<rect x="693.2" y="501.5" width="58.6" height="11" fill="#081d58"/>
</g>
<rect x="165.8" y="501.5" width="586" height="11" fill="none" stroke="#aaa" stroke-width="0.7"/>
<g stroke="#777" stroke-width="0.7">
<line x1="165.8" y1="498.5" x2="165.8" y2="512.5"/><line x1="224.4" y1="498.5" x2="224.4" y2="512.5"/><line x1="283" y1="498.5" x2="283" y2="512.5"/><line x1="341.6" y1="498.5" x2="341.6" y2="512.5"/><line x1="400.2" y1="498.5" x2="400.2" y2="512.5"/><line x1="458.8" y1="498.5" x2="458.8" y2="512.5"/><line x1="517.4" y1="498.5" x2="517.4" y2="512.5"/><line x1="576" y1="498.5" x2="576" y2="512.5"/><line x1="634.6" y1="498.5" x2="634.6" y2="512.5"/><line x1="693.2" y1="498.5" x2="693.2" y2="512.5"/><line x1="751.8" y1="498.5" x2="751.8" y2="512.5"/>
</g>
<g font-family="Liberation Sans, sans-serif" font-size="12.4" fill="#5b5b5b" text-anchor="middle">
<text x="122.5" y="494" letter-spacing="0.4">No data</text>
<text x="166.3" y="494">0%</text><text x="225" y="494">10%</text><text x="283.6" y="494">20%</text><text x="342.2" y="494">30%</text><text x="400.8" y="494">40%</text><text x="459.4" y="494">50%</text><text x="518" y="494">60%</text><text x="576.6" y="494">70%</text><text x="635.2" y="494">80%</text><text x="693.8" y="494">90%</text><text x="751.2" y="494">100%</text>
</g>
</svg>
<div id="f1" class="t foot" style="letter-spacing:0.087px;left:16px;top:533px"><b>Data source:</b> Food and Agriculture Organization of the United Nations (2025)</div>
<div id="f2" class="t foot" style="letter-spacing:0.155px;right:19px;top:533px">OurWorldinData.org/land-use-diets | CC BY</div>
<div id="f3" class="t foot" style="letter-spacing:0.043px;left:16px;top:553px"><b>Note:</b> Data represents the share of cereals available domestically (after trade) allocated directly to human food, excluding supply chain losses</div>
<div id="f4" class="t foot" style="letter-spacing:0.063px;left:16px;top:568.5px">and seed resown from the crop.</div>
</body>
</html>
